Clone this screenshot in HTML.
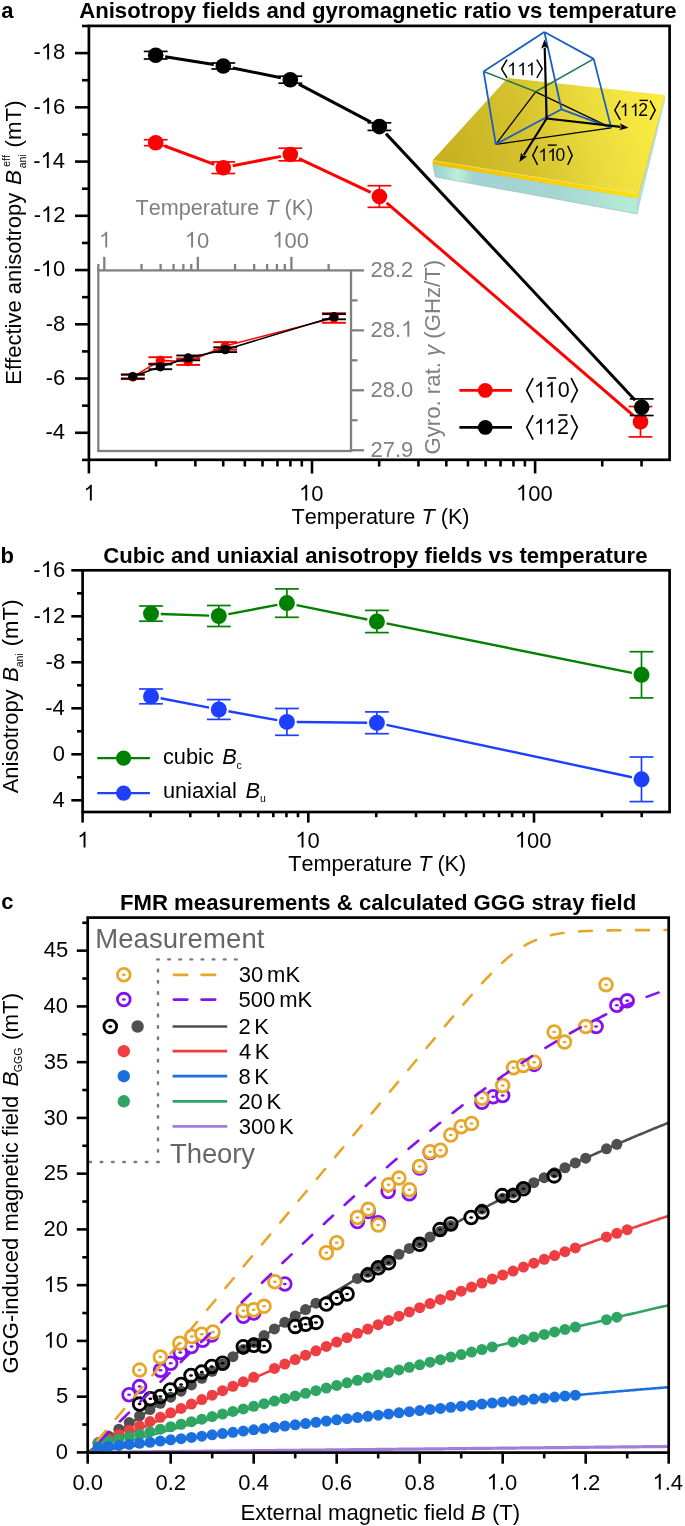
<!DOCTYPE html>
<html><head><meta charset="utf-8"><style>
html,body{margin:0;padding:0;background:#fff;}
svg{display:block;font-family:"Liberation Sans", sans-serif;will-change:transform;}
text{white-space:pre;font-kerning:none;}
</style></head><body>
<svg width="685" height="1526" viewBox="0 0 685 1526">
<defs><path id="one" d="M0.3726,0 L0.3726,-0.719 L0.305,-0.719 Q0.27,-0.64 0.18,-0.585 L0.109,-0.548 L0.109,-0.462 Q0.22,-0.51 0.2847,-0.575 L0.2847,0 Z"/></defs>
<rect width="685" height="1526" fill="#fff"/>
<text x="1.36" y="17.8" font-size="22" font-weight="bold" fill="#000" >a</text>
<text x="79.15" y="18" font-size="22.17" font-weight="bold" fill="#000" textLength="597.51" lengthAdjust="spacing">Anisotropy fields and gyromagnetic ratio vs temperature</text>
<line x1="82" y1="25.98" x2="88.9" y2="25.98" stroke="#000" stroke-width="2.6" />
<line x1="75" y1="53.1" x2="88.9" y2="53.1" stroke="#000" stroke-width="2.6" />
<text x="33.56" y="59.4" font-size="22" fill="#000" >- 8</text>
<use href="#one" transform="translate(40.89,59.4) scale(22)" fill="#000"/>
<line x1="82" y1="80.22" x2="88.9" y2="80.22" stroke="#000" stroke-width="2.6" />
<line x1="75" y1="107.34" x2="88.9" y2="107.34" stroke="#000" stroke-width="2.6" />
<text x="33.57" y="113.64" font-size="22" fill="#000" >- 6</text>
<use href="#one" transform="translate(40.9,113.64) scale(22)" fill="#000"/>
<line x1="82" y1="134.46" x2="88.9" y2="134.46" stroke="#000" stroke-width="2.6" />
<line x1="75" y1="161.58" x2="88.9" y2="161.58" stroke="#000" stroke-width="2.6" />
<text x="33.25" y="167.88" font-size="22" fill="#000" >- 4</text>
<use href="#one" transform="translate(40.57,167.88) scale(22)" fill="#000"/>
<line x1="82" y1="188.7" x2="88.9" y2="188.7" stroke="#000" stroke-width="2.6" />
<line x1="75" y1="215.82" x2="88.9" y2="215.82" stroke="#000" stroke-width="2.6" />
<text x="33.71" y="222.12" font-size="22" fill="#000" >- 2</text>
<use href="#one" transform="translate(41.04,222.12) scale(22)" fill="#000"/>
<line x1="82" y1="242.94" x2="88.9" y2="242.94" stroke="#000" stroke-width="2.6" />
<line x1="75" y1="270.06" x2="88.9" y2="270.06" stroke="#000" stroke-width="2.6" />
<text x="33.46" y="276.36" font-size="22" fill="#000" >- 0</text>
<use href="#one" transform="translate(40.79,276.36) scale(22)" fill="#000"/>
<line x1="82" y1="297.18" x2="88.9" y2="297.18" stroke="#000" stroke-width="2.6" />
<line x1="75" y1="324.3" x2="88.9" y2="324.3" stroke="#000" stroke-width="2.6" />
<text x="45.79" y="330.6" font-size="22" fill="#000" >-8</text>
<line x1="82" y1="351.42" x2="88.9" y2="351.42" stroke="#000" stroke-width="2.6" />
<line x1="75" y1="378.54" x2="88.9" y2="378.54" stroke="#000" stroke-width="2.6" />
<text x="45.81" y="384.84" font-size="22" fill="#000" >-6</text>
<line x1="82" y1="405.66" x2="88.9" y2="405.66" stroke="#000" stroke-width="2.6" />
<line x1="75" y1="432.78" x2="88.9" y2="432.78" stroke="#000" stroke-width="2.6" />
<text x="45.48" y="439.08" font-size="22" fill="#000" >-4</text>
<line x1="82" y1="459.9" x2="88.9" y2="459.9" stroke="#000" stroke-width="2.6" />
<line x1="88.9" y1="459.8" x2="88.9" y2="473.5" stroke="#000" stroke-width="2.6" />
<line x1="156.06" y1="459.8" x2="156.06" y2="466.5" stroke="#000" stroke-width="2.6" />
<line x1="195.35" y1="459.8" x2="195.35" y2="466.5" stroke="#000" stroke-width="2.6" />
<line x1="223.22" y1="459.8" x2="223.22" y2="466.5" stroke="#000" stroke-width="2.6" />
<line x1="244.84" y1="459.8" x2="244.84" y2="466.5" stroke="#000" stroke-width="2.6" />
<line x1="262.51" y1="459.8" x2="262.51" y2="466.5" stroke="#000" stroke-width="2.6" />
<line x1="277.44" y1="459.8" x2="277.44" y2="466.5" stroke="#000" stroke-width="2.6" />
<line x1="290.38" y1="459.8" x2="290.38" y2="466.5" stroke="#000" stroke-width="2.6" />
<line x1="301.79" y1="459.8" x2="301.79" y2="466.5" stroke="#000" stroke-width="2.6" />
<line x1="312" y1="459.8" x2="312" y2="473.5" stroke="#000" stroke-width="2.6" />
<line x1="379.16" y1="459.8" x2="379.16" y2="466.5" stroke="#000" stroke-width="2.6" />
<line x1="418.45" y1="459.8" x2="418.45" y2="466.5" stroke="#000" stroke-width="2.6" />
<line x1="446.32" y1="459.8" x2="446.32" y2="466.5" stroke="#000" stroke-width="2.6" />
<line x1="467.94" y1="459.8" x2="467.94" y2="466.5" stroke="#000" stroke-width="2.6" />
<line x1="485.61" y1="459.8" x2="485.61" y2="466.5" stroke="#000" stroke-width="2.6" />
<line x1="500.54" y1="459.8" x2="500.54" y2="466.5" stroke="#000" stroke-width="2.6" />
<line x1="513.48" y1="459.8" x2="513.48" y2="466.5" stroke="#000" stroke-width="2.6" />
<line x1="524.89" y1="459.8" x2="524.89" y2="466.5" stroke="#000" stroke-width="2.6" />
<line x1="535.1" y1="459.8" x2="535.1" y2="473.5" stroke="#000" stroke-width="2.6" />
<line x1="602.26" y1="459.8" x2="602.26" y2="466.5" stroke="#000" stroke-width="2.6" />
<line x1="641.55" y1="459.8" x2="641.55" y2="466.5" stroke="#000" stroke-width="2.6" />
<text x="83.6" y="500.6" font-size="22" fill="#000" > </text>
<use href="#one" transform="translate(83.6,500.6) scale(22)" fill="#000"/>
<text x="299" y="500.6" font-size="22" fill="#000" > 0</text>
<use href="#one" transform="translate(299,500.6) scale(22)" fill="#000"/>
<text x="515.98" y="500.6" font-size="22" fill="#000" > 00</text>
<use href="#one" transform="translate(515.98,500.6) scale(22)" fill="#000"/>
<text x="291.51" y="524" font-size="21.65" fill="#000" >Temperature </text>
<text x="421.47" y="524" font-size="21.65" font-style="italic" fill="#000" >T</text>
<text x="434.69" y="524" font-size="21.65" fill="#000" > (K)</text>
<g transform="translate(21,0) rotate(-90)" fill="#000">
<text x="-384.7" y="0" font-size="22">Effective anisotropy</text>
<text x="-185.09" y="0" font-size="22.4" font-style="italic">B</text>
<text x="-168.25" y="4.9" font-size="10.5">ani</text>
<text x="-166.85" y="-11" font-size="10.5">eff</text>
<text x="-147.38" y="0" font-size="22.3">(mT)</text>
</g>
<line x1="164.7" y1="146.03" x2="214.3" y2="164.37" stroke="#ff0000" stroke-width="3" />
<line x1="232.72" y1="165.84" x2="280.88" y2="156.36" stroke="#ff0000" stroke-width="3" />
<line x1="298.98" y1="158.59" x2="370.72" y2="192.41" stroke="#ff0000" stroke-width="3" />
<line x1="386.67" y1="202.77" x2="633.23" y2="415.43" stroke="#ff0000" stroke-width="3" />
<line x1="155.7" y1="139.7" x2="155.7" y2="145.7" stroke="#ff0000" stroke-width="1.7" />
<line x1="143.8" y1="139.7" x2="167.6" y2="139.7" stroke="#ff0000" stroke-width="1.7" />
<line x1="143.8" y1="145.7" x2="167.6" y2="145.7" stroke="#ff0000" stroke-width="1.7" />
<circle cx="155.7" cy="142.7" r="7.8" fill="#ff0000" />
<line x1="223.3" y1="161.9" x2="223.3" y2="173.5" stroke="#ff0000" stroke-width="1.7" />
<line x1="211.4" y1="161.9" x2="235.2" y2="161.9" stroke="#ff0000" stroke-width="1.7" />
<line x1="211.4" y1="173.5" x2="235.2" y2="173.5" stroke="#ff0000" stroke-width="1.7" />
<circle cx="223.3" cy="167.7" r="7.8" fill="#ff0000" />
<line x1="290.3" y1="148.2" x2="290.3" y2="160.8" stroke="#ff0000" stroke-width="1.7" />
<line x1="278.4" y1="148.2" x2="302.2" y2="148.2" stroke="#ff0000" stroke-width="1.7" />
<line x1="278.4" y1="160.8" x2="302.2" y2="160.8" stroke="#ff0000" stroke-width="1.7" />
<circle cx="290.3" cy="154.5" r="7.8" fill="#ff0000" />
<line x1="379.4" y1="185.7" x2="379.4" y2="207.3" stroke="#ff0000" stroke-width="1.7" />
<line x1="367.5" y1="185.7" x2="391.3" y2="185.7" stroke="#ff0000" stroke-width="1.7" />
<line x1="367.5" y1="207.3" x2="391.3" y2="207.3" stroke="#ff0000" stroke-width="1.7" />
<circle cx="379.4" cy="196.5" r="7.8" fill="#ff0000" />
<line x1="640.5" y1="406.5" x2="640.5" y2="436.9" stroke="#ff0000" stroke-width="1.7" />
<line x1="628.6" y1="406.5" x2="652.4" y2="406.5" stroke="#ff0000" stroke-width="1.7" />
<line x1="628.6" y1="436.9" x2="652.4" y2="436.9" stroke="#ff0000" stroke-width="1.7" />
<circle cx="640.5" cy="421.7" r="7.8" fill="#ff0000" />
<line x1="165.18" y1="56.71" x2="213.82" y2="64.49" stroke="#000" stroke-width="3" />
<line x1="232.71" y1="67.92" x2="280.89" y2="77.78" stroke="#000" stroke-width="3" />
<line x1="298.8" y1="84.17" x2="370.9" y2="122.13" stroke="#000" stroke-width="3" />
<line x1="385.96" y1="133.61" x2="635.14" y2="400.19" stroke="#000" stroke-width="3" />
<line x1="155.7" y1="51.4" x2="155.7" y2="59" stroke="#000" stroke-width="1.7" />
<line x1="143.8" y1="51.4" x2="167.6" y2="51.4" stroke="#000" stroke-width="1.7" />
<line x1="143.8" y1="59" x2="167.6" y2="59" stroke="#000" stroke-width="1.7" />
<circle cx="155.7" cy="55.2" r="7.8" fill="#000" />
<line x1="223.3" y1="63" x2="223.3" y2="69" stroke="#000" stroke-width="1.7" />
<line x1="211.4" y1="63" x2="235.2" y2="63" stroke="#000" stroke-width="1.7" />
<line x1="211.4" y1="69" x2="235.2" y2="69" stroke="#000" stroke-width="1.7" />
<circle cx="223.3" cy="66" r="7.8" fill="#000" />
<line x1="290.3" y1="76.2" x2="290.3" y2="83.2" stroke="#000" stroke-width="1.7" />
<line x1="278.4" y1="76.2" x2="302.2" y2="76.2" stroke="#000" stroke-width="1.7" />
<line x1="278.4" y1="83.2" x2="302.2" y2="83.2" stroke="#000" stroke-width="1.7" />
<circle cx="290.3" cy="79.7" r="7.8" fill="#000" />
<line x1="379.4" y1="122.8" x2="379.4" y2="130.4" stroke="#000" stroke-width="1.7" />
<line x1="367.5" y1="122.8" x2="391.3" y2="122.8" stroke="#000" stroke-width="1.7" />
<line x1="367.5" y1="130.4" x2="391.3" y2="130.4" stroke="#000" stroke-width="1.7" />
<circle cx="379.4" cy="126.6" r="7.8" fill="#000" />
<line x1="641.7" y1="398.9" x2="641.7" y2="415.5" stroke="#000" stroke-width="1.7" />
<line x1="629.8" y1="398.9" x2="653.6" y2="398.9" stroke="#000" stroke-width="1.7" />
<line x1="629.8" y1="415.5" x2="653.6" y2="415.5" stroke="#000" stroke-width="1.7" />
<circle cx="641.7" cy="407.2" r="7.8" fill="#000" />
<line x1="459.4" y1="390.4" x2="512" y2="390.4" stroke="#ff0000" stroke-width="2.6" />
<circle cx="485.3" cy="390.4" r="7.4" fill="#ff0000" />
<line x1="459.4" y1="427.4" x2="512" y2="427.4" stroke="#000" stroke-width="2.6" />
<circle cx="485.3" cy="427.4" r="7.4" fill="#000" />
<polyline points="533.1,378.1 526.7,390.35 533.1,402.6" fill="none" stroke="#000" stroke-width="1.7" stroke-linejoin="miter"/>
<polyline points="571.2,378.1 577.3,390.35 571.2,402.6" fill="none" stroke="#000" stroke-width="1.7" stroke-linejoin="miter"/>
<text x="533.86" y="397.3" font-size="21.5" fill="#000" > </text>
<use href="#one" transform="translate(533.86,397.3) scale(21.5)" fill="#000"/>
<text x="544.76" y="397.3" font-size="21.5" fill="#000" > </text>
<use href="#one" transform="translate(544.76,397.3) scale(21.5)" fill="#000"/>
<text x="557.66" y="397.3" font-size="21.5" fill="#000" >0</text>
<line x1="547.4" y1="378" x2="556.2" y2="378" stroke="#000" stroke-width="1.6" />
<polyline points="533.1,415.1 526.7,427.35 533.1,439.6" fill="none" stroke="#000" stroke-width="1.7" stroke-linejoin="miter"/>
<polyline points="571.2,415.1 577.3,427.35 571.2,439.6" fill="none" stroke="#000" stroke-width="1.7" stroke-linejoin="miter"/>
<text x="533.86" y="434.3" font-size="21.5" fill="#000" > </text>
<use href="#one" transform="translate(533.86,434.3) scale(21.5)" fill="#000"/>
<text x="544.76" y="434.3" font-size="21.5" fill="#000" > </text>
<use href="#one" transform="translate(544.76,434.3) scale(21.5)" fill="#000"/>
<text x="556.92" y="434.3" font-size="21.5" fill="#000" >2</text>
<line x1="558.4" y1="415" x2="567.4" y2="415" stroke="#000" stroke-width="1.6" />
<rect x="98.3" y="270.4" width="252.7" height="180.6" fill="#fff"/>
<line x1="132.8" y1="376.9" x2="160.3" y2="360.4" stroke="#ff0000" stroke-width="1.6" />
<line x1="160.3" y1="360.4" x2="188.2" y2="361.7" stroke="#ff0000" stroke-width="1.6" />
<line x1="188.2" y1="361.7" x2="225.2" y2="345.9" stroke="#ff0000" stroke-width="1.6" />
<line x1="225.2" y1="345.9" x2="334" y2="318" stroke="#ff0000" stroke-width="1.6" />
<line x1="132.8" y1="374.7" x2="132.8" y2="379.1" stroke="#ff0000" stroke-width="1.6" />
<line x1="120.9" y1="374.7" x2="144.7" y2="374.7" stroke="#ff0000" stroke-width="1.9" />
<line x1="120.9" y1="379.1" x2="144.7" y2="379.1" stroke="#ff0000" stroke-width="1.9" />
<circle cx="132.8" cy="376.9" r="4.6" fill="#ff0000" />
<line x1="160.3" y1="357.2" x2="160.3" y2="363.6" stroke="#ff0000" stroke-width="1.6" />
<line x1="148.4" y1="357.2" x2="172.2" y2="357.2" stroke="#ff0000" stroke-width="1.9" />
<line x1="148.4" y1="363.6" x2="172.2" y2="363.6" stroke="#ff0000" stroke-width="1.9" />
<circle cx="160.3" cy="360.4" r="4.6" fill="#ff0000" />
<line x1="188.2" y1="358.5" x2="188.2" y2="364.9" stroke="#ff0000" stroke-width="1.6" />
<line x1="176.3" y1="358.5" x2="200.1" y2="358.5" stroke="#ff0000" stroke-width="1.9" />
<line x1="176.3" y1="364.9" x2="200.1" y2="364.9" stroke="#ff0000" stroke-width="1.9" />
<circle cx="188.2" cy="361.7" r="4.6" fill="#ff0000" />
<line x1="225.2" y1="342.1" x2="225.2" y2="349.7" stroke="#ff0000" stroke-width="1.6" />
<line x1="213.3" y1="342.1" x2="237.1" y2="342.1" stroke="#ff0000" stroke-width="1.9" />
<line x1="213.3" y1="349.7" x2="237.1" y2="349.7" stroke="#ff0000" stroke-width="1.9" />
<circle cx="225.2" cy="345.9" r="4.6" fill="#ff0000" />
<line x1="334" y1="313.2" x2="334" y2="322.8" stroke="#ff0000" stroke-width="1.6" />
<line x1="322.1" y1="313.2" x2="345.9" y2="313.2" stroke="#ff0000" stroke-width="1.9" />
<line x1="322.1" y1="322.8" x2="345.9" y2="322.8" stroke="#ff0000" stroke-width="1.9" />
<circle cx="334" cy="318" r="4.6" fill="#ff0000" />
<line x1="132.8" y1="376.5" x2="160.3" y2="366.8" stroke="#000" stroke-width="1.6" />
<line x1="160.3" y1="366.8" x2="188.2" y2="357.9" stroke="#000" stroke-width="1.6" />
<line x1="188.2" y1="357.9" x2="225.2" y2="349.7" stroke="#000" stroke-width="1.6" />
<line x1="225.2" y1="349.7" x2="334" y2="316.7" stroke="#000" stroke-width="1.6" />
<line x1="132.8" y1="374.5" x2="132.8" y2="378.5" stroke="#000" stroke-width="1.6" />
<line x1="120.9" y1="374.5" x2="144.7" y2="374.5" stroke="#000" stroke-width="1.9" />
<line x1="120.9" y1="378.5" x2="144.7" y2="378.5" stroke="#000" stroke-width="1.9" />
<circle cx="132.8" cy="376.5" r="4.6" fill="#000" />
<line x1="160.3" y1="364.4" x2="160.3" y2="369.2" stroke="#000" stroke-width="1.6" />
<line x1="148.4" y1="364.4" x2="172.2" y2="364.4" stroke="#000" stroke-width="1.9" />
<line x1="148.4" y1="369.2" x2="172.2" y2="369.2" stroke="#000" stroke-width="1.9" />
<circle cx="160.3" cy="366.8" r="4.6" fill="#000" />
<line x1="188.2" y1="355.5" x2="188.2" y2="360.3" stroke="#000" stroke-width="1.6" />
<line x1="176.3" y1="355.5" x2="200.1" y2="355.5" stroke="#000" stroke-width="1.9" />
<line x1="176.3" y1="360.3" x2="200.1" y2="360.3" stroke="#000" stroke-width="1.9" />
<circle cx="188.2" cy="357.9" r="4.6" fill="#000" />
<line x1="225.2" y1="347.3" x2="225.2" y2="352.1" stroke="#000" stroke-width="1.6" />
<line x1="213.3" y1="347.3" x2="237.1" y2="347.3" stroke="#000" stroke-width="1.9" />
<line x1="213.3" y1="352.1" x2="237.1" y2="352.1" stroke="#000" stroke-width="1.9" />
<circle cx="225.2" cy="349.7" r="4.6" fill="#000" />
<line x1="334" y1="314.1" x2="334" y2="319.3" stroke="#000" stroke-width="1.6" />
<line x1="322.1" y1="314.1" x2="345.9" y2="314.1" stroke="#000" stroke-width="1.9" />
<line x1="322.1" y1="319.3" x2="345.9" y2="319.3" stroke="#000" stroke-width="1.9" />
<circle cx="334" cy="316.7" r="4.6" fill="#000" />
<rect x="98.3" y="270.4" width="252.7" height="180.6" fill="none" stroke="#808080" stroke-width="2.3"/>
<line x1="104.3" y1="270.4" x2="104.3" y2="256.8" stroke="#808080" stroke-width="2.3" />
<line x1="141.53" y1="270.4" x2="141.53" y2="264" stroke="#808080" stroke-width="2.3" />
<line x1="160.62" y1="270.4" x2="160.62" y2="264" stroke="#808080" stroke-width="2.3" />
<line x1="173.56" y1="270.4" x2="173.56" y2="264" stroke="#808080" stroke-width="2.3" />
<line x1="183.36" y1="270.4" x2="183.36" y2="264" stroke="#808080" stroke-width="2.3" />
<line x1="191.25" y1="270.4" x2="191.25" y2="264" stroke="#808080" stroke-width="2.3" />
<line x1="197.85" y1="270.4" x2="197.85" y2="256.8" stroke="#808080" stroke-width="2.3" />
<line x1="235.08" y1="270.4" x2="235.08" y2="264" stroke="#808080" stroke-width="2.3" />
<line x1="254.17" y1="270.4" x2="254.17" y2="264" stroke="#808080" stroke-width="2.3" />
<line x1="267.11" y1="270.4" x2="267.11" y2="264" stroke="#808080" stroke-width="2.3" />
<line x1="276.91" y1="270.4" x2="276.91" y2="264" stroke="#808080" stroke-width="2.3" />
<line x1="284.8" y1="270.4" x2="284.8" y2="264" stroke="#808080" stroke-width="2.3" />
<line x1="291.4" y1="270.4" x2="291.4" y2="256.8" stroke="#808080" stroke-width="2.3" />
<line x1="328.63" y1="270.4" x2="328.63" y2="264" stroke="#808080" stroke-width="2.3" />
<line x1="98.3" y1="270.4" x2="98.3" y2="264" stroke="#808080" stroke-width="2.3" />
<text x="99" y="247.6" font-size="22" fill="#808080" > </text>
<use href="#one" transform="translate(99,247.6) scale(22)" fill="#808080"/>
<text x="184.85" y="247.6" font-size="22" fill="#808080" > 0</text>
<use href="#one" transform="translate(184.85,247.6) scale(22)" fill="#808080"/>
<text x="272.28" y="247.6" font-size="22" fill="#808080" > 00</text>
<use href="#one" transform="translate(272.28,247.6) scale(22)" fill="#808080"/>
<text x="135.41" y="214.6" font-size="21.65" fill="#808080" >Temperature </text>
<text x="265.37" y="214.6" font-size="21.65" font-style="italic" fill="#808080" >T</text>
<text x="278.59" y="214.6" font-size="21.65" fill="#808080" > (K)</text>
<line x1="351" y1="270.4" x2="364" y2="270.4" stroke="#808080" stroke-width="2.3" />
<text x="370.49" y="276.7" font-size="22" fill="#808080" >28.2</text>
<line x1="351" y1="300.38" x2="357.5" y2="300.38" stroke="#808080" stroke-width="2.3" />
<line x1="351" y1="330.35" x2="364" y2="330.35" stroke="#808080" stroke-width="2.3" />
<text x="370.49" y="336.65" font-size="22" fill="#808080" >28. </text>
<use href="#one" transform="translate(401.08,336.65) scale(22)" fill="#808080"/>
<line x1="351" y1="360.32" x2="357.5" y2="360.32" stroke="#808080" stroke-width="2.3" />
<line x1="351" y1="390.3" x2="364" y2="390.3" stroke="#808080" stroke-width="2.3" />
<text x="370.49" y="396.6" font-size="22" fill="#808080" >28.0</text>
<line x1="351" y1="420.27" x2="357.5" y2="420.27" stroke="#808080" stroke-width="2.3" />
<line x1="351" y1="450.25" x2="364" y2="450.25" stroke="#808080" stroke-width="2.3" />
<text x="370.49" y="456.55" font-size="22" fill="#808080" >27.9</text>
<text transform="translate(440.2,357.2) rotate(-90)" font-size="22.2" text-anchor="middle" fill="#808080">Gyro. rat. <tspan font-style="italic">&#x3B3;</tspan> (GHz/T)</text>
<defs>
<linearGradient id="slabtop" gradientUnits="userSpaceOnUse" x1="450" y1="160" x2="660" y2="110">
<stop offset="0" stop-color="#c8b222"/><stop offset="0.35" stop-color="#d5c12d"/><stop offset="0.7" stop-color="#ecdd3e"/><stop offset="1" stop-color="#fbec42"/></linearGradient>
<linearGradient id="slabfront" gradientUnits="userSpaceOnUse" x1="433" y1="0" x2="638" y2="0">
<stop offset="0" stop-color="#9fd0cf"/><stop offset="0.06" stop-color="#a8dcd4"/><stop offset="0.12" stop-color="#bdf0d8"/><stop offset="0.2" stop-color="#a2d2d2"/><stop offset="0.6" stop-color="#a6d6d2"/><stop offset="1" stop-color="#b6ecd6"/></linearGradient>
<linearGradient id="slabband" gradientUnits="userSpaceOnUse" x1="433" y1="0" x2="638" y2="0">
<stop offset="0" stop-color="#eec000"/><stop offset="0.5" stop-color="#f8cc00"/><stop offset="1" stop-color="#ffe010"/></linearGradient>
</defs>
<polygon points="432.8,164.2 638,198.4 637.4,214 435.4,177" fill="url(#slabfront)" stroke="#8fb8b8" stroke-width="0.6"/>
<polygon points="638,193.6 664.8,94.9 664.8,101 637.4,214" fill="#b2ddd8"/>
<polygon points="638,193.6 664.8,94.9 664.8,96.5 638,198.4" fill="#f2d21a"/>
<polygon points="432.6,160.2 638,193.6 638,198.4 432.8,164.4" fill="url(#slabband)"/>
<polygon points="432.6,160.2 507.6,78 664.8,94.9 638,193.6" fill="url(#slabtop)" />
<line x1="433.5" y1="160.6" x2="637.5" y2="194" stroke="#f4e060" stroke-width="0.9" opacity="0.8"/>
<line x1="495.8" y1="144.3" x2="535.7" y2="91.8" stroke="#000" stroke-width="1.3" />
<line x1="535.7" y1="91.8" x2="611.2" y2="127.9" stroke="#000" stroke-width="1.3" />
<line x1="495.8" y1="144.3" x2="611.2" y2="127.9" stroke="#000" stroke-width="1.3" />
<line x1="483.6" y1="71.4" x2="535.7" y2="91.8" stroke="#1f7a4e" stroke-width="1.6" />
<line x1="593.7" y1="58.9" x2="535.7" y2="91.8" stroke="#1f7a4e" stroke-width="1.6" />
<line x1="544.4" y1="32" x2="483.6" y2="71.4" stroke="#1a5ec4" stroke-width="1.8" />
<line x1="544.4" y1="32" x2="593.7" y2="58.9" stroke="#1a5ec4" stroke-width="1.8" />
<line x1="544.4" y1="32" x2="561.5" y2="109.3" stroke="#1a5ec4" stroke-width="1.8" />
<line x1="483.6" y1="71.4" x2="495.8" y2="144.3" stroke="#1a5ec4" stroke-width="1.8" />
<line x1="593.7" y1="58.9" x2="611.2" y2="127.9" stroke="#1a5ec4" stroke-width="1.8" />
<line x1="561.5" y1="109.3" x2="495.8" y2="144.3" stroke="#1a5ec4" stroke-width="1.8" />
<line x1="561.5" y1="109.3" x2="611.2" y2="127.9" stroke="#1a5ec4" stroke-width="1.8" />
<line x1="546.6" y1="118.5" x2="544.71" y2="47.6" stroke="#000" stroke-width="2.2" />
<polygon points="544.5,39.6 548.34,48.5 544.69,46.6 541.14,48.69" fill="#000"/>
<line x1="546.6" y1="118.5" x2="620.55" y2="126.9" stroke="#000" stroke-width="2.2" />
<polygon points="628.5,127.8 619.15,130.36 621.54,127.01 619.96,123.21" fill="#000"/>
<line x1="546.6" y1="118.5" x2="523.64" y2="155.22" stroke="#000" stroke-width="2.2" />
<polygon points="519.4,162 521.12,152.46 523.11,156.06 527.22,156.28" fill="#000"/>
<polyline points="507,59.7 501.6,68.8 507,77.9" fill="none" stroke="#000" stroke-width="1.5" stroke-linejoin="miter"/>
<polyline points="536.8,59.7 542.2,68.8 536.8,77.9" fill="none" stroke="#000" stroke-width="1.5" stroke-linejoin="miter"/>
<text x="507.27" y="75.2" font-size="17.7" fill="#000" > </text>
<use href="#one" transform="translate(507.27,75.2) scale(17.7)" fill="#000"/>
<text x="517.27" y="75.2" font-size="17.7" fill="#000" > </text>
<use href="#one" transform="translate(517.27,75.2) scale(17.7)" fill="#000"/>
<text x="526.07" y="75.2" font-size="17.7" fill="#000" > </text>
<use href="#one" transform="translate(526.07,75.2) scale(17.7)" fill="#000"/>
<polyline points="620.3,100.6 614.8,110.2 620.3,119.8" fill="none" stroke="#000" stroke-width="1.5" stroke-linejoin="miter"/>
<polyline points="650.1,100.6 655.2,110.2 650.1,119.8" fill="none" stroke="#000" stroke-width="1.5" stroke-linejoin="miter"/>
<text x="619.79" y="116" font-size="17.5" fill="#000" > </text>
<use href="#one" transform="translate(619.79,116) scale(17.5)" fill="#000"/>
<text x="629.89" y="116" font-size="17.5" fill="#000" > </text>
<use href="#one" transform="translate(629.89,116) scale(17.5)" fill="#000"/>
<text x="638.32" y="116" font-size="17.5" fill="#000" >2</text>
<line x1="639.6" y1="100.4" x2="647.9" y2="100.4" stroke="#000" stroke-width="1.4" />
<polyline points="537.6,145.8 532.8,155.4 537.6,165" fill="none" stroke="#000" stroke-width="1.5" stroke-linejoin="miter"/>
<polyline points="567.7,145.8 572.2,155.4 567.7,165" fill="none" stroke="#000" stroke-width="1.5" stroke-linejoin="miter"/>
<text x="538.29" y="161.1" font-size="17.5" fill="#000" > </text>
<use href="#one" transform="translate(538.29,161.1) scale(17.5)" fill="#000"/>
<text x="547.29" y="161.1" font-size="17.5" fill="#000" > </text>
<use href="#one" transform="translate(547.29,161.1) scale(17.5)" fill="#000"/>
<text x="555.62" y="161.1" font-size="17.5" fill="#000" >0</text>
<line x1="547.7" y1="145.1" x2="556.7" y2="145.1" stroke="#000" stroke-width="1.4" />
<rect x="88.9" y="25.9" width="580.7" height="433.9" fill="none" stroke="#000" stroke-width="2.7"/>
<text x="0.55" y="562.8" font-size="22" font-weight="bold" fill="#000" >b</text>
<text x="103.29" y="562.9" font-size="22.15" font-weight="bold" fill="#000" textLength="544.17" lengthAdjust="spacing">Cubic and uniaxial anisotropy fields vs temperature</text>
<line x1="71.3" y1="570.3" x2="82.6" y2="570.3" stroke="#000" stroke-width="2.6" />
<text x="33.37" y="577.1" font-size="22" fill="#000" >- 6</text>
<use href="#one" transform="translate(40.7,577.1) scale(22)" fill="#000"/>
<line x1="77" y1="593.3" x2="82.6" y2="593.3" stroke="#000" stroke-width="2.6" />
<line x1="71.3" y1="616.3" x2="82.6" y2="616.3" stroke="#000" stroke-width="2.6" />
<text x="33.51" y="623.1" font-size="22" fill="#000" >- 2</text>
<use href="#one" transform="translate(40.84,623.1) scale(22)" fill="#000"/>
<line x1="77" y1="639.3" x2="82.6" y2="639.3" stroke="#000" stroke-width="2.6" />
<line x1="71.3" y1="662.3" x2="82.6" y2="662.3" stroke="#000" stroke-width="2.6" />
<text x="45.59" y="669.1" font-size="22" fill="#000" >-8</text>
<line x1="77" y1="685.3" x2="82.6" y2="685.3" stroke="#000" stroke-width="2.6" />
<line x1="71.3" y1="708.3" x2="82.6" y2="708.3" stroke="#000" stroke-width="2.6" />
<text x="45.28" y="715.1" font-size="22" fill="#000" >-4</text>
<line x1="77" y1="731.3" x2="82.6" y2="731.3" stroke="#000" stroke-width="2.6" />
<line x1="71.3" y1="754.3" x2="82.6" y2="754.3" stroke="#000" stroke-width="2.6" />
<text x="52.82" y="761.1" font-size="22" fill="#000" >0</text>
<line x1="77" y1="777.3" x2="82.6" y2="777.3" stroke="#000" stroke-width="2.6" />
<line x1="71.3" y1="800.3" x2="82.6" y2="800.3" stroke="#000" stroke-width="2.6" />
<text x="52.61" y="807.1" font-size="22" fill="#000" >4</text>
<line x1="82.6" y1="812" x2="82.6" y2="822.6" stroke="#000" stroke-width="2.6" />
<line x1="150.54" y1="812" x2="150.54" y2="817.2" stroke="#000" stroke-width="2.6" />
<line x1="190.29" y1="812" x2="190.29" y2="817.2" stroke="#000" stroke-width="2.6" />
<line x1="218.48" y1="812" x2="218.48" y2="817.2" stroke="#000" stroke-width="2.6" />
<line x1="240.36" y1="812" x2="240.36" y2="817.2" stroke="#000" stroke-width="2.6" />
<line x1="258.23" y1="812" x2="258.23" y2="817.2" stroke="#000" stroke-width="2.6" />
<line x1="273.34" y1="812" x2="273.34" y2="817.2" stroke="#000" stroke-width="2.6" />
<line x1="286.43" y1="812" x2="286.43" y2="817.2" stroke="#000" stroke-width="2.6" />
<line x1="297.97" y1="812" x2="297.97" y2="817.2" stroke="#000" stroke-width="2.6" />
<line x1="308.3" y1="812" x2="308.3" y2="822.6" stroke="#000" stroke-width="2.6" />
<line x1="376.24" y1="812" x2="376.24" y2="817.2" stroke="#000" stroke-width="2.6" />
<line x1="415.99" y1="812" x2="415.99" y2="817.2" stroke="#000" stroke-width="2.6" />
<line x1="444.18" y1="812" x2="444.18" y2="817.2" stroke="#000" stroke-width="2.6" />
<line x1="466.06" y1="812" x2="466.06" y2="817.2" stroke="#000" stroke-width="2.6" />
<line x1="483.93" y1="812" x2="483.93" y2="817.2" stroke="#000" stroke-width="2.6" />
<line x1="499.04" y1="812" x2="499.04" y2="817.2" stroke="#000" stroke-width="2.6" />
<line x1="512.13" y1="812" x2="512.13" y2="817.2" stroke="#000" stroke-width="2.6" />
<line x1="523.67" y1="812" x2="523.67" y2="817.2" stroke="#000" stroke-width="2.6" />
<line x1="534" y1="812" x2="534" y2="822.6" stroke="#000" stroke-width="2.6" />
<line x1="601.94" y1="812" x2="601.94" y2="817.2" stroke="#000" stroke-width="2.6" />
<line x1="641.69" y1="812" x2="641.69" y2="817.2" stroke="#000" stroke-width="2.6" />
<text x="77.3" y="847.6" font-size="22" fill="#000" > </text>
<use href="#one" transform="translate(77.3,847.6) scale(22)" fill="#000"/>
<text x="295.3" y="847.6" font-size="22" fill="#000" > 0</text>
<use href="#one" transform="translate(295.3,847.6) scale(22)" fill="#000"/>
<text x="514.88" y="847.6" font-size="22" fill="#000" > 00</text>
<use href="#one" transform="translate(514.88,847.6) scale(22)" fill="#000"/>
<text x="288.21" y="871.4" font-size="21.65" fill="#000" >Temperature </text>
<text x="418.17" y="871.4" font-size="21.65" font-style="italic" fill="#000" >T</text>
<text x="431.39" y="871.4" font-size="21.65" fill="#000" > (K)</text>
<g transform="translate(18,0) rotate(-90)" fill="#000">
<text x="-793.34" y="0" font-size="22">Anisotropy</text>
<text x="-681.89" y="0" font-size="22.4" font-style="italic">B</text>
<text x="-667.25" y="4.6" font-size="10.5">ani</text>
<text x="-646.28" y="0" font-size="22.2">(mT)</text>
</g>
<line x1="160.79" y1="613.95" x2="209.01" y2="615.65" stroke="#008000" stroke-width="2.4" />
<line x1="228.43" y1="614.18" x2="277.27" y2="604.92" stroke="#008000" stroke-width="2.4" />
<line x1="296.5" y1="605.06" x2="367.3" y2="619.54" stroke="#008000" stroke-width="2.4" />
<line x1="386.51" y1="623.44" x2="631.89" y2="672.86" stroke="#008000" stroke-width="2.4" />
<line x1="151" y1="606" x2="151" y2="621.2" stroke="#008000" stroke-width="1.7" />
<line x1="139.1" y1="606" x2="162.9" y2="606" stroke="#008000" stroke-width="1.7" />
<line x1="139.1" y1="621.2" x2="162.9" y2="621.2" stroke="#008000" stroke-width="1.7" />
<circle cx="151" cy="613.6" r="8" fill="#008000" />
<line x1="218.8" y1="605.5" x2="218.8" y2="626.5" stroke="#008000" stroke-width="1.7" />
<line x1="206.9" y1="605.5" x2="230.7" y2="605.5" stroke="#008000" stroke-width="1.7" />
<line x1="206.9" y1="626.5" x2="230.7" y2="626.5" stroke="#008000" stroke-width="1.7" />
<circle cx="218.8" cy="616" r="8" fill="#008000" />
<line x1="286.9" y1="588.9" x2="286.9" y2="617.3" stroke="#008000" stroke-width="1.7" />
<line x1="275" y1="588.9" x2="298.8" y2="588.9" stroke="#008000" stroke-width="1.7" />
<line x1="275" y1="617.3" x2="298.8" y2="617.3" stroke="#008000" stroke-width="1.7" />
<circle cx="286.9" cy="603.1" r="8" fill="#008000" />
<line x1="376.9" y1="610.4" x2="376.9" y2="632.6" stroke="#008000" stroke-width="1.7" />
<line x1="365" y1="610.4" x2="388.8" y2="610.4" stroke="#008000" stroke-width="1.7" />
<line x1="365" y1="632.6" x2="388.8" y2="632.6" stroke="#008000" stroke-width="1.7" />
<circle cx="376.9" cy="621.5" r="8" fill="#008000" />
<line x1="641.5" y1="651.7" x2="641.5" y2="697.9" stroke="#008000" stroke-width="1.7" />
<line x1="629.6" y1="651.7" x2="653.4" y2="651.7" stroke="#008000" stroke-width="1.7" />
<line x1="629.6" y1="697.9" x2="653.4" y2="697.9" stroke="#008000" stroke-width="1.7" />
<circle cx="641.5" cy="674.8" r="8" fill="#008000" />
<line x1="160.62" y1="698.26" x2="209.18" y2="707.64" stroke="#1f3fff" stroke-width="2.4" />
<line x1="228.44" y1="711.26" x2="277.26" y2="720.14" stroke="#1f3fff" stroke-width="2.4" />
<line x1="296.7" y1="722" x2="367.1" y2="722.7" stroke="#1f3fff" stroke-width="2.4" />
<line x1="386.48" y1="724.85" x2="631.92" y2="777.25" stroke="#1f3fff" stroke-width="2.4" />
<line x1="151" y1="689" x2="151" y2="703.8" stroke="#1f3fff" stroke-width="1.7" />
<line x1="139.1" y1="689" x2="162.9" y2="689" stroke="#1f3fff" stroke-width="1.7" />
<line x1="139.1" y1="703.8" x2="162.9" y2="703.8" stroke="#1f3fff" stroke-width="1.7" />
<circle cx="151" cy="696.4" r="8" fill="#1f3fff" />
<line x1="218.8" y1="699.6" x2="218.8" y2="719.4" stroke="#1f3fff" stroke-width="1.7" />
<line x1="206.9" y1="699.6" x2="230.7" y2="699.6" stroke="#1f3fff" stroke-width="1.7" />
<line x1="206.9" y1="719.4" x2="230.7" y2="719.4" stroke="#1f3fff" stroke-width="1.7" />
<circle cx="218.8" cy="709.5" r="8" fill="#1f3fff" />
<line x1="286.9" y1="708.5" x2="286.9" y2="735.3" stroke="#1f3fff" stroke-width="1.7" />
<line x1="275" y1="708.5" x2="298.8" y2="708.5" stroke="#1f3fff" stroke-width="1.7" />
<line x1="275" y1="735.3" x2="298.8" y2="735.3" stroke="#1f3fff" stroke-width="1.7" />
<circle cx="286.9" cy="721.9" r="8" fill="#1f3fff" />
<line x1="376.9" y1="711.9" x2="376.9" y2="733.7" stroke="#1f3fff" stroke-width="1.7" />
<line x1="365" y1="711.9" x2="388.8" y2="711.9" stroke="#1f3fff" stroke-width="1.7" />
<line x1="365" y1="733.7" x2="388.8" y2="733.7" stroke="#1f3fff" stroke-width="1.7" />
<circle cx="376.9" cy="722.8" r="8" fill="#1f3fff" />
<line x1="641.5" y1="757" x2="641.5" y2="801.6" stroke="#1f3fff" stroke-width="1.7" />
<line x1="629.6" y1="757" x2="653.4" y2="757" stroke="#1f3fff" stroke-width="1.7" />
<line x1="629.6" y1="801.6" x2="653.4" y2="801.6" stroke="#1f3fff" stroke-width="1.7" />
<circle cx="641.5" cy="779.3" r="8" fill="#1f3fff" />
<line x1="97.3" y1="758.1" x2="149.9" y2="758.1" stroke="#008000" stroke-width="2.4" />
<circle cx="123.6" cy="758.1" r="7.6" fill="#008000" />
<line x1="97.3" y1="793.1" x2="149.9" y2="793.1" stroke="#1f3fff" stroke-width="2.4" />
<circle cx="123.6" cy="793.1" r="7.6" fill="#1f3fff" />
<text x="162.97" y="764.2" font-size="21.8" fill="#000" >cubic </text>
<text x="222.23" y="764.2" font-size="21.8" font-style="italic" fill="#000" >B</text>
<text x="236.55" y="768.6" font-size="10.5" fill="#000" >c</text>
<text x="162.88" y="797.6" font-size="21.8" fill="#000" >uniaxial </text>
<text x="245.53" y="797.6" font-size="21.8" font-style="italic" fill="#000" >B</text>
<text x="259.92" y="802.4" font-size="10.5" fill="#000" >u</text>
<rect x="82.6" y="570.3" width="587" height="241.7" fill="none" stroke="#000" stroke-width="2.7"/>
<text x="1.34" y="909" font-size="22" font-weight="bold" fill="#000" >c</text>
<text x="119.92" y="909.9" font-size="22.17" font-weight="bold" fill="#000" textLength="516.34" lengthAdjust="spacing">FMR measurements &amp; calculated GGG stray field</text>
<line x1="76.8" y1="1452.4" x2="87.7" y2="1452.4" stroke="#000" stroke-width="2.6" />
<text x="55.82" y="1459.2" font-size="22" fill="#000" >0</text>
<line x1="82.3" y1="1424.53" x2="87.7" y2="1424.53" stroke="#000" stroke-width="2.6" />
<line x1="76.8" y1="1396.65" x2="87.7" y2="1396.65" stroke="#000" stroke-width="2.6" />
<text x="55.89" y="1403.45" font-size="22" fill="#000" >5</text>
<line x1="82.3" y1="1368.78" x2="87.7" y2="1368.78" stroke="#000" stroke-width="2.6" />
<line x1="76.8" y1="1340.9" x2="87.7" y2="1340.9" stroke="#000" stroke-width="2.6" />
<text x="43.59" y="1347.7" font-size="22" fill="#000" > 0</text>
<use href="#one" transform="translate(43.59,1347.7) scale(22)" fill="#000"/>
<line x1="82.3" y1="1313.03" x2="87.7" y2="1313.03" stroke="#000" stroke-width="2.6" />
<line x1="76.8" y1="1285.15" x2="87.7" y2="1285.15" stroke="#000" stroke-width="2.6" />
<text x="43.65" y="1291.95" font-size="22" fill="#000" > 5</text>
<use href="#one" transform="translate(43.65,1291.95) scale(22)" fill="#000"/>
<line x1="82.3" y1="1257.28" x2="87.7" y2="1257.28" stroke="#000" stroke-width="2.6" />
<line x1="76.8" y1="1229.4" x2="87.7" y2="1229.4" stroke="#000" stroke-width="2.6" />
<text x="43.59" y="1236.2" font-size="22" fill="#000" >20</text>
<line x1="82.3" y1="1201.53" x2="87.7" y2="1201.53" stroke="#000" stroke-width="2.6" />
<line x1="76.8" y1="1173.65" x2="87.7" y2="1173.65" stroke="#000" stroke-width="2.6" />
<text x="43.65" y="1180.45" font-size="22" fill="#000" >25</text>
<line x1="82.3" y1="1145.78" x2="87.7" y2="1145.78" stroke="#000" stroke-width="2.6" />
<line x1="76.8" y1="1117.9" x2="87.7" y2="1117.9" stroke="#000" stroke-width="2.6" />
<text x="43.59" y="1124.7" font-size="22" fill="#000" >30</text>
<line x1="82.3" y1="1090.03" x2="87.7" y2="1090.03" stroke="#000" stroke-width="2.6" />
<line x1="76.8" y1="1062.15" x2="87.7" y2="1062.15" stroke="#000" stroke-width="2.6" />
<text x="43.65" y="1068.95" font-size="22" fill="#000" >35</text>
<line x1="82.3" y1="1034.28" x2="87.7" y2="1034.28" stroke="#000" stroke-width="2.6" />
<line x1="76.8" y1="1006.4" x2="87.7" y2="1006.4" stroke="#000" stroke-width="2.6" />
<text x="43.59" y="1013.2" font-size="22" fill="#000" >40</text>
<line x1="82.3" y1="978.53" x2="87.7" y2="978.53" stroke="#000" stroke-width="2.6" />
<line x1="76.8" y1="950.65" x2="87.7" y2="950.65" stroke="#000" stroke-width="2.6" />
<text x="43.65" y="957.45" font-size="22" fill="#000" >45</text>
<line x1="82.3" y1="922.78" x2="87.7" y2="922.78" stroke="#000" stroke-width="2.6" />
<line x1="87.7" y1="1452.6" x2="87.7" y2="1463.7" stroke="#000" stroke-width="2.6" />
<text x="72.41" y="1489.6" font-size="22" fill="#000" >0.0</text>
<line x1="129.2" y1="1452.6" x2="129.2" y2="1458.4" stroke="#000" stroke-width="2.6" />
<line x1="170.7" y1="1452.6" x2="170.7" y2="1463.7" stroke="#000" stroke-width="2.6" />
<text x="155.53" y="1489.6" font-size="22" fill="#000" >0.2</text>
<line x1="212.2" y1="1452.6" x2="212.2" y2="1458.4" stroke="#000" stroke-width="2.6" />
<line x1="253.7" y1="1452.6" x2="253.7" y2="1463.7" stroke="#000" stroke-width="2.6" />
<text x="238.3" y="1489.6" font-size="22" fill="#000" >0.4</text>
<line x1="295.2" y1="1452.6" x2="295.2" y2="1458.4" stroke="#000" stroke-width="2.6" />
<line x1="336.7" y1="1452.6" x2="336.7" y2="1463.7" stroke="#000" stroke-width="2.6" />
<text x="321.46" y="1489.6" font-size="22" fill="#000" >0.6</text>
<line x1="378.2" y1="1452.6" x2="378.2" y2="1458.4" stroke="#000" stroke-width="2.6" />
<line x1="419.7" y1="1452.6" x2="419.7" y2="1463.7" stroke="#000" stroke-width="2.6" />
<text x="404.46" y="1489.6" font-size="22" fill="#000" >0.8</text>
<line x1="461.2" y1="1452.6" x2="461.2" y2="1458.4" stroke="#000" stroke-width="2.6" />
<line x1="502.7" y1="1452.6" x2="502.7" y2="1463.7" stroke="#000" stroke-width="2.6" />
<text x="486.64" y="1489.6" font-size="22" fill="#000" > .0</text>
<use href="#one" transform="translate(486.64,1489.6) scale(22)" fill="#000"/>
<line x1="544.2" y1="1452.6" x2="544.2" y2="1458.4" stroke="#000" stroke-width="2.6" />
<line x1="585.7" y1="1452.6" x2="585.7" y2="1463.7" stroke="#000" stroke-width="2.6" />
<text x="569.76" y="1489.6" font-size="22" fill="#000" > .2</text>
<use href="#one" transform="translate(569.76,1489.6) scale(22)" fill="#000"/>
<line x1="627.2" y1="1452.6" x2="627.2" y2="1458.4" stroke="#000" stroke-width="2.6" />
<line x1="668.7" y1="1452.6" x2="668.7" y2="1463.7" stroke="#000" stroke-width="2.6" />
<text x="652.53" y="1489.6" font-size="22" fill="#000" > .4</text>
<use href="#one" transform="translate(652.53,1489.6) scale(22)" fill="#000"/>
<text x="240.58" y="1519.8" font-size="22.17" fill="#000" >External magnetic field </text>
<text x="471.02" y="1519.8" font-size="22.17" font-style="italic" fill="#000" >B</text>
<text x="485.8" y="1519.8" font-size="22.17" fill="#000" > (T)</text>
<g transform="translate(17.8,0) rotate(-90)" fill="#000">
<text x="-1373.41" y="0" font-size="22">GGG-induced magnetic field</text>
<text x="-1086.5" y="0" font-size="22.6" font-style="italic">B</text>
<text x="-1072.13" y="4.4" font-size="10.5">GGG</text>
<text x="-1039.98" y="0" font-size="22.3">(mT)</text>
</g>
<clipPath id="cclip"><rect x="87.7" y="917.6" width="581" height="533.8"/></clipPath><g clip-path="url(#cclip)">
<path d="M87.7,1452.4 L89.78,1452.38 L91.85,1452.36 L93.92,1452.34 L96,1452.32 L98.08,1452.29 L100.15,1452.27 L102.22,1452.25 L104.3,1452.23 L106.38,1452.21 L108.45,1452.19 L110.53,1452.17 L112.6,1452.15 L114.68,1452.12 L116.75,1452.1 L118.83,1452.08 L120.9,1452.06 L122.97,1452.04 L125.05,1452.02 L127.12,1452 L129.2,1451.98 L131.28,1451.96 L133.35,1451.93 L135.43,1451.91 L137.5,1451.89 L139.57,1451.87 L141.65,1451.85 L143.72,1451.83 L145.8,1451.81 L147.88,1451.79 L149.95,1451.76 L152.03,1451.74 L154.1,1451.72 L156.18,1451.7 L158.25,1451.68 L160.32,1451.66 L162.4,1451.64 L164.48,1451.62 L166.55,1451.59 L168.62,1451.57 L170.7,1451.55 L172.77,1451.53 L174.85,1451.51 L176.93,1451.49 L179,1451.47 L181.07,1451.45 L183.15,1451.43 L185.22,1451.4 L187.3,1451.38 L189.38,1451.36 L191.45,1451.34 L193.52,1451.32 L195.6,1451.3 L197.67,1451.28 L199.75,1451.26 L201.83,1451.23 L203.9,1451.21 L205.97,1451.19 L208.05,1451.17 L210.12,1451.15 L212.2,1451.13 L214.28,1451.11 L216.35,1451.09 L218.42,1451.07 L220.5,1451.04 L222.57,1451.02 L224.65,1451 L226.72,1450.98 L228.8,1450.96 L230.88,1450.94 L232.95,1450.92 L235.02,1450.9 L237.1,1450.87 L239.17,1450.85 L241.25,1450.83 L243.32,1450.81 L245.4,1450.79 L247.48,1450.77 L249.55,1450.75 L251.62,1450.73 L253.7,1450.71 L255.77,1450.68 L257.85,1450.66 L259.93,1450.64 L262,1450.62 L264.07,1450.6 L266.15,1450.58 L268.23,1450.56 L270.3,1450.54 L272.38,1450.51 L274.45,1450.49 L276.52,1450.47 L278.6,1450.45 L280.68,1450.43 L282.75,1450.41 L284.82,1450.39 L286.9,1450.37 L288.97,1450.35 L291.05,1450.32 L293.12,1450.3 L295.2,1450.28 L297.27,1450.26 L299.35,1450.24 L301.43,1450.22 L303.5,1450.2 L305.57,1450.18 L307.65,1450.15 L309.72,1450.13 L311.8,1450.11 L313.88,1450.09 L315.95,1450.07 L318.02,1450.05 L320.1,1450.03 L322.17,1450.01 L324.25,1449.98 L326.32,1449.96 L328.4,1449.94 L330.47,1449.92 L332.55,1449.9 L334.62,1449.88 L336.7,1449.86 L338.77,1449.84 L340.85,1449.82 L342.93,1449.79 L345,1449.77 L347.07,1449.75 L349.15,1449.73 L351.22,1449.71 L353.3,1449.69 L355.38,1449.67 L357.45,1449.65 L359.52,1449.62 L361.6,1449.6 L363.67,1449.58 L365.75,1449.56 L367.82,1449.54 L369.9,1449.52 L371.97,1449.5 L374.05,1449.48 L376.12,1449.46 L378.2,1449.43 L380.27,1449.41 L382.35,1449.39 L384.42,1449.37 L386.5,1449.35 L388.57,1449.33 L390.65,1449.31 L392.72,1449.29 L394.8,1449.26 L396.88,1449.24 L398.95,1449.22 L401.02,1449.2 L403.1,1449.18 L405.18,1449.16 L407.25,1449.14 L409.32,1449.12 L411.4,1449.1 L413.47,1449.07 L415.55,1449.05 L417.62,1449.03 L419.7,1449.01 L421.77,1448.99 L423.85,1448.97 L425.92,1448.95 L428,1448.93 L430.07,1448.9 L432.15,1448.88 L434.22,1448.86 L436.3,1448.84 L438.38,1448.82 L440.45,1448.8 L442.52,1448.78 L444.6,1448.76 L446.68,1448.73 L448.75,1448.71 L450.82,1448.69 L452.9,1448.67 L454.97,1448.65 L457.05,1448.63 L459.12,1448.61 L461.2,1448.59 L463.27,1448.57 L465.35,1448.54 L467.42,1448.52 L469.5,1448.5 L471.57,1448.48 L473.65,1448.46 L475.73,1448.44 L477.8,1448.42 L479.87,1448.4 L481.95,1448.37 L484.02,1448.35 L486.1,1448.33 L488.17,1448.31 L490.25,1448.29 L492.32,1448.27 L494.4,1448.25 L496.47,1448.23 L498.55,1448.21 L500.62,1448.18 L502.7,1448.16 L504.77,1448.14 L506.85,1448.12 L508.92,1448.1 L511,1448.08 L513.07,1448.06 L515.15,1448.04 L517.23,1448.01 L519.3,1447.99 L521.38,1447.97 L523.45,1447.95 L525.52,1447.93 L527.6,1447.91 L529.67,1447.89 L531.75,1447.87 L533.83,1447.85 L535.9,1447.82 L537.97,1447.8 L540.05,1447.78 L542.12,1447.76 L544.2,1447.74 L546.27,1447.72 L548.35,1447.7 L550.43,1447.68 L552.5,1447.65 L554.58,1447.63 L556.65,1447.61 L558.72,1447.59 L560.8,1447.57 L562.87,1447.55 L564.95,1447.53 L567.02,1447.51 L569.1,1447.49 L571.18,1447.46 L573.25,1447.44 L575.33,1447.42 L577.4,1447.4 L579.47,1447.38 L581.55,1447.36 L583.62,1447.34 L585.7,1447.32 L587.77,1447.29 L589.85,1447.27 L591.92,1447.25 L594,1447.23 L596.08,1447.21 L598.15,1447.19 L600.23,1447.17 L602.3,1447.15 L604.38,1447.12 L606.45,1447.1 L608.52,1447.08 L610.6,1447.06 L612.67,1447.04 L614.75,1447.02 L616.83,1447 L618.9,1446.98 L620.98,1446.96 L623.05,1446.93 L625.12,1446.91 L627.2,1446.89 L629.27,1446.87 L631.35,1446.85 L633.43,1446.83 L635.5,1446.81 L637.58,1446.79 L639.65,1446.76 L641.72,1446.74 L643.8,1446.72 L645.88,1446.7 L647.95,1446.68 L650.03,1446.66 L652.1,1446.64 L654.18,1446.62 L656.25,1446.6 L658.33,1446.57 L660.4,1446.55 L662.47,1446.53 L664.55,1446.51 L666.62,1446.49 L668.7,1446.47" fill="none" stroke="#a47cdb" stroke-width="3.2" stroke-linecap="butt"/>
<path d="M87.7,1452.4 L89.78,1450.97 L91.85,1449.55 L93.92,1448.12 L96,1446.7 L98.08,1445.27 L100.15,1443.85 L102.22,1442.43 L104.3,1441.01 L106.38,1439.59 L108.45,1438.17 L110.53,1436.76 L112.6,1435.34 L114.68,1433.93 L116.75,1432.51 L118.83,1431.1 L120.9,1429.69 L122.97,1428.28 L125.05,1426.87 L127.12,1425.46 L129.2,1424.06 L131.28,1422.65 L133.35,1421.25 L135.43,1419.85 L137.5,1418.45 L139.57,1417.05 L141.65,1415.65 L143.72,1414.25 L145.8,1412.85 L147.88,1411.46 L149.95,1410.06 L152.03,1408.67 L154.1,1407.28 L156.18,1405.89 L158.25,1404.5 L160.32,1403.11 L162.4,1401.73 L164.48,1400.34 L166.55,1398.96 L168.62,1397.58 L170.7,1396.2 L172.77,1394.82 L174.85,1393.44 L176.93,1392.06 L179,1390.69 L181.07,1389.31 L183.15,1387.94 L185.22,1386.57 L187.3,1385.2 L189.38,1383.83 L191.45,1382.47 L193.52,1381.1 L195.6,1379.74 L197.67,1378.37 L199.75,1377.01 L201.83,1375.65 L203.9,1374.3 L205.97,1372.94 L208.05,1371.58 L210.12,1370.23 L212.2,1368.88 L214.28,1367.53 L216.35,1366.18 L218.42,1364.83 L220.5,1363.49 L222.57,1362.14 L224.65,1360.8 L226.72,1359.46 L228.8,1358.12 L230.88,1356.78 L232.95,1355.44 L235.02,1354.11 L237.1,1352.78 L239.17,1351.44 L241.25,1350.11 L243.32,1348.79 L245.4,1347.46 L247.48,1346.13 L249.55,1344.81 L251.62,1343.49 L253.7,1342.17 L255.77,1340.85 L257.85,1339.54 L259.93,1338.22 L262,1336.91 L264.07,1335.6 L266.15,1334.29 L268.23,1332.98 L270.3,1331.67 L272.38,1330.37 L274.45,1329.06 L276.52,1327.76 L278.6,1326.46 L280.68,1325.17 L282.75,1323.87 L284.82,1322.58 L286.9,1321.28 L288.97,1319.99 L291.05,1318.71 L293.12,1317.42 L295.2,1316.13 L297.27,1314.85 L299.35,1313.57 L301.43,1312.29 L303.5,1311.01 L305.57,1309.74 L307.65,1308.46 L309.72,1307.19 L311.8,1305.92 L313.88,1304.66 L315.95,1303.39 L318.02,1302.13 L320.1,1300.86 L322.17,1299.6 L324.25,1298.34 L326.32,1297.09 L328.4,1295.83 L330.47,1294.58 L332.55,1293.33 L334.62,1292.08 L336.7,1290.84 L338.77,1289.59 L340.85,1288.35 L342.93,1287.11 L345,1285.87 L347.07,1284.63 L349.15,1283.4 L351.22,1282.17 L353.3,1280.94 L355.38,1279.71 L357.45,1278.48 L359.52,1277.26 L361.6,1276.04 L363.67,1274.82 L365.75,1273.6 L367.82,1272.39 L369.9,1271.17 L371.97,1269.96 L374.05,1268.75 L376.12,1267.55 L378.2,1266.34 L380.27,1265.14 L382.35,1263.94 L384.42,1262.74 L386.5,1261.54 L388.57,1260.35 L390.65,1259.16 L392.72,1257.97 L394.8,1256.78 L396.88,1255.6 L398.95,1254.41 L401.02,1253.23 L403.1,1252.05 L405.18,1250.88 L407.25,1249.71 L409.32,1248.53 L411.4,1247.36 L413.47,1246.2 L415.55,1245.03 L417.62,1243.87 L419.7,1242.71 L421.77,1241.55 L423.85,1240.4 L425.92,1239.25 L428,1238.09 L430.07,1236.95 L432.15,1235.8 L434.22,1234.66 L436.3,1233.52 L438.38,1232.38 L440.45,1231.24 L442.52,1230.11 L444.6,1228.98 L446.68,1227.85 L448.75,1226.72 L450.82,1225.6 L452.9,1224.47 L454.97,1223.35 L457.05,1222.24 L459.12,1221.12 L461.2,1220.01 L463.27,1218.9 L465.35,1217.8 L467.42,1216.69 L469.5,1215.59 L471.57,1214.49 L473.65,1213.39 L475.73,1212.3 L477.8,1211.21 L479.87,1210.12 L481.95,1209.03 L484.02,1207.95 L486.1,1206.87 L488.17,1205.79 L490.25,1204.71 L492.32,1203.64 L494.4,1202.57 L496.47,1201.5 L498.55,1200.43 L500.62,1199.37 L502.7,1198.31 L504.77,1197.25 L506.85,1196.2 L508.92,1195.14 L511,1194.09 L513.07,1193.05 L515.15,1192 L517.23,1190.96 L519.3,1189.92 L521.38,1188.88 L523.45,1187.85 L525.52,1186.82 L527.6,1185.79 L529.67,1184.76 L531.75,1183.74 L533.83,1182.72 L535.9,1181.7 L537.97,1180.69 L540.05,1179.68 L542.12,1178.67 L544.2,1177.66 L546.27,1176.66 L548.35,1175.66 L550.43,1174.66 L552.5,1173.67 L554.58,1172.68 L556.65,1171.69 L558.72,1170.7 L560.8,1169.72 L562.87,1168.74 L564.95,1167.76 L567.02,1166.78 L569.1,1165.81 L571.18,1164.84 L573.25,1163.88 L575.33,1162.91 L577.4,1161.95 L579.47,1161 L581.55,1160.04 L583.62,1159.09 L585.7,1158.14 L587.77,1157.2 L589.85,1156.26 L591.92,1155.32 L594,1154.38 L596.08,1153.45 L598.15,1152.52 L600.23,1151.59 L602.3,1150.66 L604.38,1149.74 L606.45,1148.82 L608.52,1147.91 L610.6,1147 L612.67,1146.09 L614.75,1145.18 L616.83,1144.28 L618.9,1143.38 L620.98,1142.48 L623.05,1141.59 L625.12,1140.7 L627.2,1139.81 L629.27,1138.93 L631.35,1138.05 L633.43,1137.17 L635.5,1136.29 L637.58,1135.42 L639.65,1134.55 L641.72,1133.69 L643.8,1132.83 L645.88,1131.97 L647.95,1131.11 L650.03,1130.26 L652.1,1129.41 L654.18,1128.56 L656.25,1127.72 L658.33,1126.88 L660.4,1126.04 L662.47,1125.21 L664.55,1124.38 L666.62,1123.56 L668.7,1122.73" fill="none" stroke="#4f4f4f" stroke-width="2.6" stroke-linecap="butt"/>
<path d="M87.7,1452.4 L89.78,1451.46 L91.85,1450.52 L93.92,1449.57 L96,1448.63 L98.08,1447.69 L100.15,1446.75 L102.22,1445.81 L104.3,1444.87 L106.38,1443.93 L108.45,1442.99 L110.53,1442.05 L112.6,1441.11 L114.68,1440.17 L116.75,1439.23 L118.83,1438.29 L120.9,1437.35 L122.97,1436.41 L125.05,1435.47 L127.12,1434.53 L129.2,1433.6 L131.28,1432.66 L133.35,1431.72 L135.43,1430.79 L137.5,1429.85 L139.57,1428.91 L141.65,1427.98 L143.72,1427.04 L145.8,1426.11 L147.88,1425.17 L149.95,1424.24 L152.03,1423.31 L154.1,1422.37 L156.18,1421.44 L158.25,1420.51 L160.32,1419.57 L162.4,1418.64 L164.48,1417.71 L166.55,1416.78 L168.62,1415.85 L170.7,1414.92 L172.77,1413.99 L174.85,1413.06 L176.93,1412.13 L179,1411.2 L181.07,1410.27 L183.15,1409.35 L185.22,1408.42 L187.3,1407.49 L189.38,1406.56 L191.45,1405.64 L193.52,1404.71 L195.6,1403.79 L197.67,1402.86 L199.75,1401.94 L201.83,1401.02 L203.9,1400.09 L205.97,1399.17 L208.05,1398.25 L210.12,1397.33 L212.2,1396.41 L214.28,1395.49 L216.35,1394.57 L218.42,1393.65 L220.5,1392.73 L222.57,1391.81 L224.65,1390.89 L226.72,1389.97 L228.8,1389.06 L230.88,1388.14 L232.95,1387.23 L235.02,1386.31 L237.1,1385.4 L239.17,1384.48 L241.25,1383.57 L243.32,1382.66 L245.4,1381.75 L247.48,1380.83 L249.55,1379.92 L251.62,1379.01 L253.7,1378.1 L255.77,1377.19 L257.85,1376.29 L259.93,1375.38 L262,1374.47 L264.07,1373.57 L266.15,1372.66 L268.23,1371.76 L270.3,1370.85 L272.38,1369.95 L274.45,1369.04 L276.52,1368.14 L278.6,1367.24 L280.68,1366.34 L282.75,1365.44 L284.82,1364.54 L286.9,1363.64 L288.97,1362.74 L291.05,1361.84 L293.12,1360.95 L295.2,1360.05 L297.27,1359.16 L299.35,1358.26 L301.43,1357.37 L303.5,1356.48 L305.57,1355.58 L307.65,1354.69 L309.72,1353.8 L311.8,1352.91 L313.88,1352.02 L315.95,1351.13 L318.02,1350.25 L320.1,1349.36 L322.17,1348.47 L324.25,1347.59 L326.32,1346.7 L328.4,1345.82 L330.47,1344.94 L332.55,1344.06 L334.62,1343.17 L336.7,1342.29 L338.77,1341.41 L340.85,1340.54 L342.93,1339.66 L345,1338.78 L347.07,1337.91 L349.15,1337.03 L351.22,1336.16 L353.3,1335.28 L355.38,1334.41 L357.45,1333.54 L359.52,1332.67 L361.6,1331.8 L363.67,1330.93 L365.75,1330.06 L367.82,1329.19 L369.9,1328.33 L371.97,1327.46 L374.05,1326.6 L376.12,1325.73 L378.2,1324.87 L380.27,1324.01 L382.35,1323.15 L384.42,1322.29 L386.5,1321.43 L388.57,1320.57 L390.65,1319.72 L392.72,1318.86 L394.8,1318.01 L396.88,1317.15 L398.95,1316.3 L401.02,1315.45 L403.1,1314.6 L405.18,1313.75 L407.25,1312.9 L409.32,1312.05 L411.4,1311.2 L413.47,1310.36 L415.55,1309.51 L417.62,1308.67 L419.7,1307.83 L421.77,1306.98 L423.85,1306.14 L425.92,1305.3 L428,1304.47 L430.07,1303.63 L432.15,1302.79 L434.22,1301.96 L436.3,1301.12 L438.38,1300.29 L440.45,1299.46 L442.52,1298.63 L444.6,1297.8 L446.68,1296.97 L448.75,1296.14 L450.82,1295.31 L452.9,1294.49 L454.97,1293.67 L457.05,1292.84 L459.12,1292.02 L461.2,1291.2 L463.27,1290.38 L465.35,1289.56 L467.42,1288.74 L469.5,1287.93 L471.57,1287.11 L473.65,1286.3 L475.73,1285.49 L477.8,1284.68 L479.87,1283.87 L481.95,1283.06 L484.02,1282.25 L486.1,1281.44 L488.17,1280.64 L490.25,1279.83 L492.32,1279.03 L494.4,1278.23 L496.47,1277.43 L498.55,1276.63 L500.62,1275.83 L502.7,1275.04 L504.77,1274.24 L506.85,1273.45 L508.92,1272.65 L511,1271.86 L513.07,1271.07 L515.15,1270.28 L517.23,1269.5 L519.3,1268.71 L521.38,1267.92 L523.45,1267.14 L525.52,1266.36 L527.6,1265.58 L529.67,1264.8 L531.75,1264.02 L533.83,1263.24 L535.9,1262.47 L537.97,1261.69 L540.05,1260.92 L542.12,1260.15 L544.2,1259.38 L546.27,1258.61 L548.35,1257.84 L550.43,1257.07 L552.5,1256.31 L554.58,1255.54 L556.65,1254.78 L558.72,1254.02 L560.8,1253.26 L562.87,1252.5 L564.95,1251.75 L567.02,1250.99 L569.1,1250.24 L571.18,1249.49 L573.25,1248.74 L575.33,1247.99 L577.4,1247.24 L579.47,1246.49 L581.55,1245.75 L583.62,1245 L585.7,1244.26 L587.77,1243.52 L589.85,1242.78 L591.92,1242.04 L594,1241.31 L596.08,1240.57 L598.15,1239.84 L600.23,1239.11 L602.3,1238.38 L604.38,1237.65 L606.45,1236.92 L608.52,1236.2 L610.6,1235.47 L612.67,1234.75 L614.75,1234.03 L616.83,1233.31 L618.9,1232.59 L620.98,1231.88 L623.05,1231.16 L625.12,1230.45 L627.2,1229.74 L629.27,1229.03 L631.35,1228.32 L633.43,1227.61 L635.5,1226.9 L637.58,1226.2 L639.65,1225.5 L641.72,1224.8 L643.8,1224.1 L645.88,1223.4 L647.95,1222.71 L650.03,1222.01 L652.1,1221.32 L654.18,1220.63 L656.25,1219.94 L658.33,1219.25 L660.4,1218.57 L662.47,1217.88 L664.55,1217.2 L666.62,1216.52 L668.7,1215.84" fill="none" stroke="#ee3e42" stroke-width="2.6" stroke-linecap="butt"/>
<path d="M87.7,1452.4 L89.78,1451.83 L91.85,1451.25 L93.92,1450.68 L96,1450.11 L98.08,1449.54 L100.15,1448.97 L102.22,1448.4 L104.3,1447.83 L106.38,1447.26 L108.45,1446.69 L110.53,1446.12 L112.6,1445.55 L114.68,1444.98 L116.75,1444.41 L118.83,1443.84 L120.9,1443.28 L122.97,1442.71 L125.05,1442.14 L127.12,1441.58 L129.2,1441.01 L131.28,1440.44 L133.35,1439.88 L135.43,1439.31 L137.5,1438.75 L139.57,1438.18 L141.65,1437.62 L143.72,1437.06 L145.8,1436.49 L147.88,1435.93 L149.95,1435.37 L152.03,1434.8 L154.1,1434.24 L156.18,1433.68 L158.25,1433.12 L160.32,1432.56 L162.4,1432 L164.48,1431.43 L166.55,1430.87 L168.62,1430.31 L170.7,1429.75 L172.77,1429.2 L174.85,1428.64 L176.93,1428.08 L179,1427.52 L181.07,1426.96 L183.15,1426.4 L185.22,1425.85 L187.3,1425.29 L189.38,1424.73 L191.45,1424.18 L193.52,1423.62 L195.6,1423.07 L197.67,1422.51 L199.75,1421.96 L201.83,1421.4 L203.9,1420.85 L205.97,1420.29 L208.05,1419.74 L210.12,1419.19 L212.2,1418.63 L214.28,1418.08 L216.35,1417.53 L218.42,1416.98 L220.5,1416.43 L222.57,1415.88 L224.65,1415.32 L226.72,1414.77 L228.8,1414.22 L230.88,1413.67 L232.95,1413.12 L235.02,1412.58 L237.1,1412.03 L239.17,1411.48 L241.25,1410.93 L243.32,1410.38 L245.4,1409.84 L247.48,1409.29 L249.55,1408.74 L251.62,1408.19 L253.7,1407.65 L255.77,1407.1 L257.85,1406.56 L259.93,1406.01 L262,1405.47 L264.07,1404.92 L266.15,1404.38 L268.23,1403.84 L270.3,1403.29 L272.38,1402.75 L274.45,1402.21 L276.52,1401.66 L278.6,1401.12 L280.68,1400.58 L282.75,1400.04 L284.82,1399.5 L286.9,1398.96 L288.97,1398.42 L291.05,1397.88 L293.12,1397.34 L295.2,1396.8 L297.27,1396.26 L299.35,1395.72 L301.43,1395.18 L303.5,1394.64 L305.57,1394.11 L307.65,1393.57 L309.72,1393.03 L311.8,1392.5 L313.88,1391.96 L315.95,1391.42 L318.02,1390.89 L320.1,1390.35 L322.17,1389.82 L324.25,1389.28 L326.32,1388.75 L328.4,1388.21 L330.47,1387.68 L332.55,1387.15 L334.62,1386.61 L336.7,1386.08 L338.77,1385.55 L340.85,1385.02 L342.93,1384.49 L345,1383.95 L347.07,1383.42 L349.15,1382.89 L351.22,1382.36 L353.3,1381.83 L355.38,1381.3 L357.45,1380.77 L359.52,1380.24 L361.6,1379.72 L363.67,1379.19 L365.75,1378.66 L367.82,1378.13 L369.9,1377.61 L371.97,1377.08 L374.05,1376.55 L376.12,1376.03 L378.2,1375.5 L380.27,1374.97 L382.35,1374.45 L384.42,1373.92 L386.5,1373.4 L388.57,1372.88 L390.65,1372.35 L392.72,1371.83 L394.8,1371.31 L396.88,1370.78 L398.95,1370.26 L401.02,1369.74 L403.1,1369.22 L405.18,1368.69 L407.25,1368.17 L409.32,1367.65 L411.4,1367.13 L413.47,1366.61 L415.55,1366.09 L417.62,1365.57 L419.7,1365.05 L421.77,1364.53 L423.85,1364.02 L425.92,1363.5 L428,1362.98 L430.07,1362.46 L432.15,1361.95 L434.22,1361.43 L436.3,1360.91 L438.38,1360.4 L440.45,1359.88 L442.52,1359.36 L444.6,1358.85 L446.68,1358.34 L448.75,1357.82 L450.82,1357.31 L452.9,1356.79 L454.97,1356.28 L457.05,1355.77 L459.12,1355.25 L461.2,1354.74 L463.27,1354.23 L465.35,1353.72 L467.42,1353.21 L469.5,1352.69 L471.57,1352.18 L473.65,1351.67 L475.73,1351.16 L477.8,1350.65 L479.87,1350.14 L481.95,1349.64 L484.02,1349.13 L486.1,1348.62 L488.17,1348.11 L490.25,1347.6 L492.32,1347.1 L494.4,1346.59 L496.47,1346.08 L498.55,1345.58 L500.62,1345.07 L502.7,1344.56 L504.77,1344.06 L506.85,1343.55 L508.92,1343.05 L511,1342.54 L513.07,1342.04 L515.15,1341.54 L517.23,1341.03 L519.3,1340.53 L521.38,1340.03 L523.45,1339.53 L525.52,1339.02 L527.6,1338.52 L529.67,1338.02 L531.75,1337.52 L533.83,1337.02 L535.9,1336.52 L537.97,1336.02 L540.05,1335.52 L542.12,1335.02 L544.2,1334.52 L546.27,1334.02 L548.35,1333.52 L550.43,1333.03 L552.5,1332.53 L554.58,1332.03 L556.65,1331.53 L558.72,1331.04 L560.8,1330.54 L562.87,1330.05 L564.95,1329.55 L567.02,1329.06 L569.1,1328.56 L571.18,1328.07 L573.25,1327.57 L575.33,1327.08 L577.4,1326.58 L579.47,1326.09 L581.55,1325.6 L583.62,1325.11 L585.7,1324.61 L587.77,1324.12 L589.85,1323.63 L591.92,1323.14 L594,1322.65 L596.08,1322.16 L598.15,1321.67 L600.23,1321.18 L602.3,1320.69 L604.38,1320.2 L606.45,1319.71 L608.52,1319.22 L610.6,1318.73 L612.67,1318.25 L614.75,1317.76 L616.83,1317.27 L618.9,1316.78 L620.98,1316.3 L623.05,1315.81 L625.12,1315.33 L627.2,1314.84 L629.27,1314.36 L631.35,1313.87 L633.43,1313.39 L635.5,1312.9 L637.58,1312.42 L639.65,1311.93 L641.72,1311.45 L643.8,1310.97 L645.88,1310.49 L647.95,1310 L650.03,1309.52 L652.1,1309.04 L654.18,1308.56 L656.25,1308.08 L658.33,1307.6 L660.4,1307.12 L662.47,1306.64 L664.55,1306.16 L666.62,1305.68 L668.7,1305.2" fill="none" stroke="#2fa463" stroke-width="2.6" stroke-linecap="butt"/>
<path d="M87.7,1452.4 L89.78,1452.1 L91.85,1451.8 L93.92,1451.51 L96,1451.21 L98.08,1450.91 L100.15,1450.61 L102.22,1450.32 L104.3,1450.02 L106.38,1449.73 L108.45,1449.43 L110.53,1449.14 L112.6,1448.85 L114.68,1448.55 L116.75,1448.26 L118.83,1447.97 L120.9,1447.68 L122.97,1447.39 L125.05,1447.09 L127.12,1446.8 L129.2,1446.51 L131.28,1446.23 L133.35,1445.94 L135.43,1445.65 L137.5,1445.36 L139.57,1445.07 L141.65,1444.79 L143.72,1444.5 L145.8,1444.21 L147.88,1443.93 L149.95,1443.64 L152.03,1443.36 L154.1,1443.07 L156.18,1442.79 L158.25,1442.51 L160.32,1442.22 L162.4,1441.94 L164.48,1441.66 L166.55,1441.38 L168.62,1441.1 L170.7,1440.82 L172.77,1440.54 L174.85,1440.26 L176.93,1439.98 L179,1439.7 L181.07,1439.42 L183.15,1439.15 L185.22,1438.87 L187.3,1438.59 L189.38,1438.32 L191.45,1438.04 L193.52,1437.77 L195.6,1437.49 L197.67,1437.22 L199.75,1436.94 L201.83,1436.67 L203.9,1436.4 L205.97,1436.12 L208.05,1435.85 L210.12,1435.58 L212.2,1435.31 L214.28,1435.04 L216.35,1434.77 L218.42,1434.5 L220.5,1434.23 L222.57,1433.96 L224.65,1433.69 L226.72,1433.43 L228.8,1433.16 L230.88,1432.89 L232.95,1432.63 L235.02,1432.36 L237.1,1432.1 L239.17,1431.83 L241.25,1431.57 L243.32,1431.3 L245.4,1431.04 L247.48,1430.78 L249.55,1430.51 L251.62,1430.25 L253.7,1429.99 L255.77,1429.73 L257.85,1429.47 L259.93,1429.21 L262,1428.95 L264.07,1428.69 L266.15,1428.43 L268.23,1428.17 L270.3,1427.92 L272.38,1427.66 L274.45,1427.4 L276.52,1427.15 L278.6,1426.89 L280.68,1426.63 L282.75,1426.38 L284.82,1426.13 L286.9,1425.87 L288.97,1425.62 L291.05,1425.36 L293.12,1425.11 L295.2,1424.86 L297.27,1424.61 L299.35,1424.36 L301.43,1424.11 L303.5,1423.86 L305.57,1423.61 L307.65,1423.36 L309.72,1423.11 L311.8,1422.86 L313.88,1422.61 L315.95,1422.37 L318.02,1422.12 L320.1,1421.87 L322.17,1421.63 L324.25,1421.38 L326.32,1421.14 L328.4,1420.89 L330.47,1420.65 L332.55,1420.4 L334.62,1420.16 L336.7,1419.92 L338.77,1419.68 L340.85,1419.43 L342.93,1419.19 L345,1418.95 L347.07,1418.71 L349.15,1418.47 L351.22,1418.23 L353.3,1417.99 L355.38,1417.76 L357.45,1417.52 L359.52,1417.28 L361.6,1417.04 L363.67,1416.81 L365.75,1416.57 L367.82,1416.34 L369.9,1416.1 L371.97,1415.87 L374.05,1415.63 L376.12,1415.4 L378.2,1415.17 L380.27,1414.93 L382.35,1414.7 L384.42,1414.47 L386.5,1414.24 L388.57,1414.01 L390.65,1413.78 L392.72,1413.55 L394.8,1413.32 L396.88,1413.09 L398.95,1412.86 L401.02,1412.63 L403.1,1412.4 L405.18,1412.18 L407.25,1411.95 L409.32,1411.73 L411.4,1411.5 L413.47,1411.27 L415.55,1411.05 L417.62,1410.83 L419.7,1410.6 L421.77,1410.38 L423.85,1410.16 L425.92,1409.93 L428,1409.71 L430.07,1409.49 L432.15,1409.27 L434.22,1409.05 L436.3,1408.83 L438.38,1408.61 L440.45,1408.39 L442.52,1408.17 L444.6,1407.95 L446.68,1407.74 L448.75,1407.52 L450.82,1407.3 L452.9,1407.09 L454.97,1406.87 L457.05,1406.66 L459.12,1406.44 L461.2,1406.23 L463.27,1406.01 L465.35,1405.8 L467.42,1405.59 L469.5,1405.37 L471.57,1405.16 L473.65,1404.95 L475.73,1404.74 L477.8,1404.53 L479.87,1404.32 L481.95,1404.11 L484.02,1403.9 L486.1,1403.69 L488.17,1403.48 L490.25,1403.28 L492.32,1403.07 L494.4,1402.86 L496.47,1402.66 L498.55,1402.45 L500.62,1402.24 L502.7,1402.04 L504.77,1401.84 L506.85,1401.63 L508.92,1401.43 L511,1401.23 L513.07,1401.02 L515.15,1400.82 L517.23,1400.62 L519.3,1400.42 L521.38,1400.22 L523.45,1400.02 L525.52,1399.82 L527.6,1399.62 L529.67,1399.42 L531.75,1399.22 L533.83,1399.02 L535.9,1398.83 L537.97,1398.63 L540.05,1398.43 L542.12,1398.24 L544.2,1398.04 L546.27,1397.85 L548.35,1397.65 L550.43,1397.46 L552.5,1397.27 L554.58,1397.07 L556.65,1396.88 L558.72,1396.69 L560.8,1396.5 L562.87,1396.3 L564.95,1396.11 L567.02,1395.92 L569.1,1395.73 L571.18,1395.54 L573.25,1395.36 L575.33,1395.17 L577.4,1394.98 L579.47,1394.79 L581.55,1394.61 L583.62,1394.42 L585.7,1394.23 L587.77,1394.05 L589.85,1393.86 L591.92,1393.68 L594,1393.49 L596.08,1393.31 L598.15,1393.13 L600.23,1392.94 L602.3,1392.76 L604.38,1392.58 L606.45,1392.4 L608.52,1392.22 L610.6,1392.04 L612.67,1391.86 L614.75,1391.68 L616.83,1391.5 L618.9,1391.32 L620.98,1391.14 L623.05,1390.97 L625.12,1390.79 L627.2,1390.61 L629.27,1390.44 L631.35,1390.26 L633.43,1390.09 L635.5,1389.91 L637.58,1389.74 L639.65,1389.56 L641.72,1389.39 L643.8,1389.22 L645.88,1389.05 L647.95,1388.87 L650.03,1388.7 L652.1,1388.53 L654.18,1388.36 L656.25,1388.19 L658.33,1388.02 L660.4,1387.85 L662.47,1387.68 L664.55,1387.52 L666.62,1387.35 L668.7,1387.18" fill="none" stroke="#1b6fdf" stroke-width="2.6" stroke-linecap="butt"/>
<circle cx="129.08" cy="1394.75" r="6.35" fill="#fff" stroke="#8510f0" stroke-width="2.8" />
<ellipse cx="129.08" cy="1394.75" rx="1.9" ry="1.25" fill="#8510f0"/>
<circle cx="139.57" cy="1386.62" r="6.35" fill="#fff" stroke="#8510f0" stroke-width="2.8" />
<ellipse cx="139.57" cy="1386.62" rx="1.9" ry="1.25" fill="#8510f0"/>
<circle cx="160.53" cy="1370.34" r="6.35" fill="#fff" stroke="#8510f0" stroke-width="2.8" />
<ellipse cx="160.53" cy="1370.34" rx="1.9" ry="1.25" fill="#8510f0"/>
<circle cx="170.7" cy="1363.2" r="6.35" fill="#fff" stroke="#8510f0" stroke-width="2.8" />
<ellipse cx="170.7" cy="1363.2" rx="1.9" ry="1.25" fill="#8510f0"/>
<circle cx="180.25" cy="1352.5" r="6.35" fill="#fff" stroke="#8510f0" stroke-width="2.8" />
<ellipse cx="180.25" cy="1352.5" rx="1.9" ry="1.25" fill="#8510f0"/>
<circle cx="191.45" cy="1346.59" r="6.35" fill="#fff" stroke="#8510f0" stroke-width="2.8" />
<ellipse cx="191.45" cy="1346.59" rx="1.9" ry="1.25" fill="#8510f0"/>
<circle cx="202.66" cy="1340.23" r="6.35" fill="#fff" stroke="#8510f0" stroke-width="2.8" />
<ellipse cx="202.66" cy="1340.23" rx="1.9" ry="1.25" fill="#8510f0"/>
<circle cx="211.78" cy="1334.99" r="6.35" fill="#fff" stroke="#8510f0" stroke-width="2.8" />
<ellipse cx="211.78" cy="1334.99" rx="1.9" ry="1.25" fill="#8510f0"/>
<circle cx="243.32" cy="1316.37" r="6.35" fill="#fff" stroke="#8510f0" stroke-width="2.8" />
<ellipse cx="243.32" cy="1316.37" rx="1.9" ry="1.25" fill="#8510f0"/>
<circle cx="253.7" cy="1313.03" r="6.35" fill="#fff" stroke="#8510f0" stroke-width="2.8" />
<ellipse cx="253.7" cy="1313.03" rx="1.9" ry="1.25" fill="#8510f0"/>
<circle cx="284.82" cy="1284.04" r="6.35" fill="#fff" stroke="#8510f0" stroke-width="2.8" />
<ellipse cx="284.82" cy="1284.04" rx="1.9" ry="1.25" fill="#8510f0"/>
<circle cx="357.45" cy="1221.6" r="6.35" fill="#fff" stroke="#8510f0" stroke-width="2.8" />
<ellipse cx="357.45" cy="1221.6" rx="1.9" ry="1.25" fill="#8510f0"/>
<circle cx="368.24" cy="1211.56" r="6.35" fill="#fff" stroke="#8510f0" stroke-width="2.8" />
<ellipse cx="368.24" cy="1211.56" rx="1.9" ry="1.25" fill="#8510f0"/>
<circle cx="378.2" cy="1222.71" r="6.35" fill="#fff" stroke="#8510f0" stroke-width="2.8" />
<ellipse cx="378.2" cy="1222.71" rx="1.9" ry="1.25" fill="#8510f0"/>
<circle cx="388.16" cy="1191.49" r="6.35" fill="#fff" stroke="#8510f0" stroke-width="2.8" />
<ellipse cx="388.16" cy="1191.49" rx="1.9" ry="1.25" fill="#8510f0"/>
<circle cx="409.32" cy="1193.72" r="6.35" fill="#fff" stroke="#8510f0" stroke-width="2.8" />
<ellipse cx="409.32" cy="1193.72" rx="1.9" ry="1.25" fill="#8510f0"/>
<circle cx="419.7" cy="1168.08" r="6.35" fill="#fff" stroke="#8510f0" stroke-width="2.8" />
<ellipse cx="419.7" cy="1168.08" rx="1.9" ry="1.25" fill="#8510f0"/>
<circle cx="430.07" cy="1152.47" r="6.35" fill="#fff" stroke="#8510f0" stroke-width="2.8" />
<ellipse cx="430.07" cy="1152.47" rx="1.9" ry="1.25" fill="#8510f0"/>
<circle cx="481.95" cy="1102.29" r="6.35" fill="#fff" stroke="#8510f0" stroke-width="2.8" />
<ellipse cx="481.95" cy="1102.29" rx="1.9" ry="1.25" fill="#8510f0"/>
<circle cx="493.15" cy="1096.72" r="6.35" fill="#fff" stroke="#8510f0" stroke-width="2.8" />
<ellipse cx="493.15" cy="1096.72" rx="1.9" ry="1.25" fill="#8510f0"/>
<circle cx="502.7" cy="1095.6" r="6.35" fill="#fff" stroke="#8510f0" stroke-width="2.8" />
<ellipse cx="502.7" cy="1095.6" rx="1.9" ry="1.25" fill="#8510f0"/>
<circle cx="534.24" cy="1064.38" r="6.35" fill="#fff" stroke="#8510f0" stroke-width="2.8" />
<ellipse cx="534.24" cy="1064.38" rx="1.9" ry="1.25" fill="#8510f0"/>
<circle cx="596.08" cy="1026.47" r="6.35" fill="#fff" stroke="#8510f0" stroke-width="2.8" />
<ellipse cx="596.08" cy="1026.47" rx="1.9" ry="1.25" fill="#8510f0"/>
<circle cx="616.83" cy="1005.29" r="6.35" fill="#fff" stroke="#8510f0" stroke-width="2.8" />
<ellipse cx="616.83" cy="1005.29" rx="1.9" ry="1.25" fill="#8510f0"/>
<circle cx="627.2" cy="1000.83" r="6.35" fill="#fff" stroke="#8510f0" stroke-width="2.8" />
<ellipse cx="627.2" cy="1000.83" rx="1.9" ry="1.25" fill="#8510f0"/>
<circle cx="139.57" cy="1370.11" r="6.35" fill="#fff" stroke="#e5a629" stroke-width="2.8" />
<ellipse cx="139.57" cy="1370.11" rx="1.9" ry="1.25" fill="#e5a629"/>
<circle cx="160.32" cy="1356.96" r="6.35" fill="#fff" stroke="#e5a629" stroke-width="2.8" />
<ellipse cx="160.32" cy="1356.96" rx="1.9" ry="1.25" fill="#e5a629"/>
<circle cx="179.83" cy="1343.13" r="6.35" fill="#fff" stroke="#e5a629" stroke-width="2.8" />
<ellipse cx="179.83" cy="1343.13" rx="1.9" ry="1.25" fill="#e5a629"/>
<circle cx="191.87" cy="1336.44" r="6.35" fill="#fff" stroke="#e5a629" stroke-width="2.8" />
<ellipse cx="191.87" cy="1336.44" rx="1.9" ry="1.25" fill="#e5a629"/>
<circle cx="201.83" cy="1334.21" r="6.35" fill="#fff" stroke="#e5a629" stroke-width="2.8" />
<ellipse cx="201.83" cy="1334.21" rx="1.9" ry="1.25" fill="#e5a629"/>
<circle cx="213.03" cy="1331.98" r="6.35" fill="#fff" stroke="#e5a629" stroke-width="2.8" />
<ellipse cx="213.03" cy="1331.98" rx="1.9" ry="1.25" fill="#e5a629"/>
<circle cx="243.32" cy="1310.8" r="6.35" fill="#fff" stroke="#e5a629" stroke-width="2.8" />
<ellipse cx="243.32" cy="1310.8" rx="1.9" ry="1.25" fill="#e5a629"/>
<circle cx="253.7" cy="1309.68" r="6.35" fill="#fff" stroke="#e5a629" stroke-width="2.8" />
<ellipse cx="253.7" cy="1309.68" rx="1.9" ry="1.25" fill="#e5a629"/>
<circle cx="264.07" cy="1306.34" r="6.35" fill="#fff" stroke="#e5a629" stroke-width="2.8" />
<ellipse cx="264.07" cy="1306.34" rx="1.9" ry="1.25" fill="#e5a629"/>
<circle cx="274.87" cy="1281.81" r="6.35" fill="#fff" stroke="#e5a629" stroke-width="2.8" />
<ellipse cx="274.87" cy="1281.81" rx="1.9" ry="1.25" fill="#e5a629"/>
<circle cx="326.32" cy="1252.82" r="6.35" fill="#fff" stroke="#e5a629" stroke-width="2.8" />
<ellipse cx="326.32" cy="1252.82" rx="1.9" ry="1.25" fill="#e5a629"/>
<circle cx="336.7" cy="1242.78" r="6.35" fill="#fff" stroke="#e5a629" stroke-width="2.8" />
<ellipse cx="336.7" cy="1242.78" rx="1.9" ry="1.25" fill="#e5a629"/>
<circle cx="357.45" cy="1217.47" r="6.35" fill="#fff" stroke="#e5a629" stroke-width="2.8" />
<ellipse cx="357.45" cy="1217.47" rx="1.9" ry="1.25" fill="#e5a629"/>
<circle cx="368.24" cy="1209.33" r="6.35" fill="#fff" stroke="#e5a629" stroke-width="2.8" />
<ellipse cx="368.24" cy="1209.33" rx="1.9" ry="1.25" fill="#e5a629"/>
<circle cx="378.2" cy="1224.94" r="6.35" fill="#fff" stroke="#e5a629" stroke-width="2.8" />
<ellipse cx="378.2" cy="1224.94" rx="1.9" ry="1.25" fill="#e5a629"/>
<circle cx="388.57" cy="1184.8" r="6.35" fill="#fff" stroke="#e5a629" stroke-width="2.8" />
<ellipse cx="388.57" cy="1184.8" rx="1.9" ry="1.25" fill="#e5a629"/>
<circle cx="398.95" cy="1178.11" r="6.35" fill="#fff" stroke="#e5a629" stroke-width="2.8" />
<ellipse cx="398.95" cy="1178.11" rx="1.9" ry="1.25" fill="#e5a629"/>
<circle cx="409.32" cy="1189.71" r="6.35" fill="#fff" stroke="#e5a629" stroke-width="2.8" />
<ellipse cx="409.32" cy="1189.71" rx="1.9" ry="1.25" fill="#e5a629"/>
<circle cx="419.7" cy="1166.51" r="6.35" fill="#fff" stroke="#e5a629" stroke-width="2.8" />
<ellipse cx="419.7" cy="1166.51" rx="1.9" ry="1.25" fill="#e5a629"/>
<circle cx="430.07" cy="1151.8" r="6.35" fill="#fff" stroke="#e5a629" stroke-width="2.8" />
<ellipse cx="430.07" cy="1151.8" rx="1.9" ry="1.25" fill="#e5a629"/>
<circle cx="440.45" cy="1150.24" r="6.35" fill="#fff" stroke="#e5a629" stroke-width="2.8" />
<ellipse cx="440.45" cy="1150.24" rx="1.9" ry="1.25" fill="#e5a629"/>
<circle cx="450.82" cy="1134.96" r="6.35" fill="#fff" stroke="#e5a629" stroke-width="2.8" />
<ellipse cx="450.82" cy="1134.96" rx="1.9" ry="1.25" fill="#e5a629"/>
<circle cx="461.2" cy="1126.82" r="6.35" fill="#fff" stroke="#e5a629" stroke-width="2.8" />
<ellipse cx="461.2" cy="1126.82" rx="1.9" ry="1.25" fill="#e5a629"/>
<circle cx="471.57" cy="1123.48" r="6.35" fill="#fff" stroke="#e5a629" stroke-width="2.8" />
<ellipse cx="471.57" cy="1123.48" rx="1.9" ry="1.25" fill="#e5a629"/>
<circle cx="481.95" cy="1098.28" r="6.35" fill="#fff" stroke="#e5a629" stroke-width="2.8" />
<ellipse cx="481.95" cy="1098.28" rx="1.9" ry="1.25" fill="#e5a629"/>
<circle cx="502.7" cy="1085.57" r="6.35" fill="#fff" stroke="#e5a629" stroke-width="2.8" />
<ellipse cx="502.7" cy="1085.57" rx="1.9" ry="1.25" fill="#e5a629"/>
<circle cx="513.49" cy="1067.73" r="6.35" fill="#fff" stroke="#e5a629" stroke-width="2.8" />
<ellipse cx="513.49" cy="1067.73" rx="1.9" ry="1.25" fill="#e5a629"/>
<circle cx="523.45" cy="1065.5" r="6.35" fill="#fff" stroke="#e5a629" stroke-width="2.8" />
<ellipse cx="523.45" cy="1065.5" rx="1.9" ry="1.25" fill="#e5a629"/>
<circle cx="534.24" cy="1062.15" r="6.35" fill="#fff" stroke="#e5a629" stroke-width="2.8" />
<ellipse cx="534.24" cy="1062.15" rx="1.9" ry="1.25" fill="#e5a629"/>
<circle cx="554.16" cy="1032.05" r="6.35" fill="#fff" stroke="#e5a629" stroke-width="2.8" />
<ellipse cx="554.16" cy="1032.05" rx="1.9" ry="1.25" fill="#e5a629"/>
<circle cx="564.54" cy="1042.08" r="6.35" fill="#fff" stroke="#e5a629" stroke-width="2.8" />
<ellipse cx="564.54" cy="1042.08" rx="1.9" ry="1.25" fill="#e5a629"/>
<circle cx="585.7" cy="1026.47" r="6.35" fill="#fff" stroke="#e5a629" stroke-width="2.8" />
<ellipse cx="585.7" cy="1026.47" rx="1.9" ry="1.25" fill="#e5a629"/>
<circle cx="606.04" cy="984.66" r="6.35" fill="#fff" stroke="#e5a629" stroke-width="2.8" />
<ellipse cx="606.04" cy="984.66" rx="1.9" ry="1.25" fill="#e5a629"/>
<circle cx="139.57" cy="1404.12" r="6.35" fill="#fff" />
<circle cx="150.37" cy="1398.66" r="6.35" fill="#fff" />
<circle cx="160.32" cy="1396.43" r="6.35" fill="#fff" />
<circle cx="170.29" cy="1389.96" r="6.35" fill="#fff" />
<circle cx="181.07" cy="1384.38" r="6.35" fill="#fff" />
<circle cx="191.03" cy="1375.47" r="6.35" fill="#fff" />
<circle cx="201.83" cy="1372.12" r="6.35" fill="#fff" />
<circle cx="211.78" cy="1366.55" r="6.35" fill="#fff" />
<circle cx="222.57" cy="1363.2" r="6.35" fill="#fff" />
<circle cx="243.32" cy="1346.7" r="6.35" fill="#fff" />
<circle cx="253.7" cy="1345.36" r="6.35" fill="#fff" />
<circle cx="264.07" cy="1346.03" r="6.35" fill="#fff" />
<circle cx="295.2" cy="1326.4" r="6.35" fill="#fff" />
<circle cx="305.57" cy="1324.18" r="6.35" fill="#fff" />
<circle cx="315.95" cy="1322.39" r="6.35" fill="#fff" />
<circle cx="326.32" cy="1304.11" r="6.35" fill="#fff" />
<circle cx="336.7" cy="1297.97" r="6.35" fill="#fff" />
<circle cx="347.07" cy="1294.07" r="6.35" fill="#fff" />
<circle cx="367.82" cy="1275.12" r="6.35" fill="#fff" />
<circle cx="378.2" cy="1267.87" r="6.35" fill="#fff" />
<circle cx="388.57" cy="1262.85" r="6.35" fill="#fff" />
<circle cx="419.7" cy="1244.34" r="6.35" fill="#fff" />
<circle cx="440.03" cy="1229.62" r="6.35" fill="#fff" />
<circle cx="450.82" cy="1224.05" r="6.35" fill="#fff" />
<circle cx="471.16" cy="1217.47" r="6.35" fill="#fff" />
<circle cx="481.95" cy="1212.12" r="6.35" fill="#fff" />
<circle cx="502.28" cy="1195.62" r="6.35" fill="#fff" />
<circle cx="513.49" cy="1195.39" r="6.35" fill="#fff" />
<circle cx="523.45" cy="1188.7" r="6.35" fill="#fff" />
<circle cx="554.16" cy="1175.88" r="6.35" fill="#fff" />
<circle cx="98.08" cy="1442.82" r="5.5" fill="#4f4f4f" />
<circle cx="108.45" cy="1436.03" r="5.5" fill="#4f4f4f" />
<circle cx="118.83" cy="1429.26" r="5.5" fill="#4f4f4f" />
<circle cx="129.2" cy="1422.55" r="5.5" fill="#4f4f4f" />
<circle cx="139.57" cy="1415.96" r="5.5" fill="#4f4f4f" />
<circle cx="149.95" cy="1409.54" r="5.5" fill="#4f4f4f" />
<circle cx="160.32" cy="1403.31" r="5.5" fill="#4f4f4f" />
<circle cx="170.7" cy="1397.22" r="5.5" fill="#4f4f4f" />
<circle cx="181.07" cy="1391.14" r="5.5" fill="#4f4f4f" />
<circle cx="191.45" cy="1384.88" r="5.5" fill="#4f4f4f" />
<circle cx="201.83" cy="1378.29" r="5.5" fill="#4f4f4f" />
<circle cx="212.2" cy="1371.31" r="5.5" fill="#4f4f4f" />
<circle cx="222.57" cy="1364.06" r="5.5" fill="#4f4f4f" />
<circle cx="232.95" cy="1356.72" r="5.5" fill="#4f4f4f" />
<circle cx="243.32" cy="1349.47" r="5.5" fill="#4f4f4f" />
<circle cx="253.7" cy="1342.41" r="5.5" fill="#4f4f4f" />
<circle cx="264.07" cy="1335.57" r="5.5" fill="#4f4f4f" />
<circle cx="274.45" cy="1328.9" r="5.5" fill="#4f4f4f" />
<circle cx="284.82" cy="1322.37" r="5.5" fill="#4f4f4f" />
<circle cx="295.2" cy="1315.92" r="5.5" fill="#4f4f4f" />
<circle cx="305.57" cy="1309.54" r="5.5" fill="#4f4f4f" />
<circle cx="315.95" cy="1303.21" r="5.5" fill="#4f4f4f" />
<circle cx="357.45" cy="1278.38" r="5.5" fill="#4f4f4f" />
<circle cx="367.82" cy="1272.29" r="5.5" fill="#4f4f4f" />
<circle cx="378.2" cy="1266.26" r="5.5" fill="#4f4f4f" />
<circle cx="388.57" cy="1260.28" r="5.5" fill="#4f4f4f" />
<circle cx="398.95" cy="1254.35" r="5.5" fill="#4f4f4f" />
<circle cx="409.32" cy="1248.48" r="5.5" fill="#4f4f4f" />
<circle cx="419.7" cy="1242.66" r="5.5" fill="#4f4f4f" />
<circle cx="430.07" cy="1236.9" r="5.5" fill="#4f4f4f" />
<circle cx="440.45" cy="1231.2" r="5.5" fill="#4f4f4f" />
<circle cx="450.82" cy="1225.56" r="5.5" fill="#4f4f4f" />
<circle cx="481.95" cy="1209.01" r="5.5" fill="#4f4f4f" />
<circle cx="502.7" cy="1198.29" r="5.5" fill="#4f4f4f" />
<circle cx="513.07" cy="1193.03" r="5.5" fill="#4f4f4f" />
<circle cx="523.45" cy="1187.83" r="5.5" fill="#4f4f4f" />
<circle cx="533.83" cy="1182.71" r="5.5" fill="#4f4f4f" />
<circle cx="544.2" cy="1177.65" r="5.5" fill="#4f4f4f" />
<circle cx="554.58" cy="1172.67" r="5.5" fill="#4f4f4f" />
<circle cx="564.95" cy="1167.75" r="5.5" fill="#4f4f4f" />
<circle cx="575.33" cy="1162.91" r="5.5" fill="#4f4f4f" />
<circle cx="585.7" cy="1158.14" r="5.5" fill="#4f4f4f" />
<circle cx="606.45" cy="1148.82" r="5.5" fill="#4f4f4f" />
<circle cx="616.83" cy="1144.27" r="5.5" fill="#4f4f4f" />
<circle cx="98.08" cy="1442.77" r="5.5" fill="#ee3e42" />
<circle cx="108.45" cy="1438.64" r="5.5" fill="#ee3e42" />
<circle cx="118.83" cy="1434.46" r="5.5" fill="#ee3e42" />
<circle cx="129.2" cy="1430.22" r="5.5" fill="#ee3e42" />
<circle cx="139.57" cy="1425.93" r="5.5" fill="#ee3e42" />
<circle cx="149.95" cy="1421.61" r="5.5" fill="#ee3e42" />
<circle cx="160.32" cy="1417.25" r="5.5" fill="#ee3e42" />
<circle cx="170.7" cy="1412.87" r="5.5" fill="#ee3e42" />
<circle cx="181.07" cy="1408.46" r="5.5" fill="#ee3e42" />
<circle cx="191.45" cy="1404.04" r="5.5" fill="#ee3e42" />
<circle cx="201.83" cy="1399.61" r="5.5" fill="#ee3e42" />
<circle cx="212.2" cy="1395.16" r="5.5" fill="#ee3e42" />
<circle cx="222.57" cy="1390.71" r="5.5" fill="#ee3e42" />
<circle cx="232.95" cy="1386.26" r="5.5" fill="#ee3e42" />
<circle cx="243.32" cy="1381.8" r="5.5" fill="#ee3e42" />
<circle cx="253.7" cy="1377.35" r="5.5" fill="#ee3e42" />
<circle cx="274.45" cy="1368.46" r="5.5" fill="#ee3e42" />
<circle cx="284.82" cy="1364.02" r="5.5" fill="#ee3e42" />
<circle cx="295.2" cy="1359.59" r="5.5" fill="#ee3e42" />
<circle cx="305.57" cy="1355.18" r="5.5" fill="#ee3e42" />
<circle cx="315.95" cy="1350.78" r="5.5" fill="#ee3e42" />
<circle cx="326.32" cy="1346.39" r="5.5" fill="#ee3e42" />
<circle cx="336.7" cy="1342.02" r="5.5" fill="#ee3e42" />
<circle cx="347.07" cy="1337.66" r="5.5" fill="#ee3e42" />
<circle cx="357.45" cy="1333.32" r="5.5" fill="#ee3e42" />
<circle cx="367.82" cy="1329" r="5.5" fill="#ee3e42" />
<circle cx="378.2" cy="1324.7" r="5.5" fill="#ee3e42" />
<circle cx="388.57" cy="1320.42" r="5.5" fill="#ee3e42" />
<circle cx="398.95" cy="1316.17" r="5.5" fill="#ee3e42" />
<circle cx="409.32" cy="1311.93" r="5.5" fill="#ee3e42" />
<circle cx="419.7" cy="1307.72" r="5.5" fill="#ee3e42" />
<circle cx="430.07" cy="1303.54" r="5.5" fill="#ee3e42" />
<circle cx="440.45" cy="1299.38" r="5.5" fill="#ee3e42" />
<circle cx="450.82" cy="1295.24" r="5.5" fill="#ee3e42" />
<circle cx="461.2" cy="1291.14" r="5.5" fill="#ee3e42" />
<circle cx="471.57" cy="1287.06" r="5.5" fill="#ee3e42" />
<circle cx="481.95" cy="1283.01" r="5.5" fill="#ee3e42" />
<circle cx="492.32" cy="1278.99" r="5.5" fill="#ee3e42" />
<circle cx="502.7" cy="1275" r="5.5" fill="#ee3e42" />
<circle cx="513.07" cy="1271.04" r="5.5" fill="#ee3e42" />
<circle cx="523.45" cy="1267.11" r="5.5" fill="#ee3e42" />
<circle cx="533.83" cy="1263.22" r="5.5" fill="#ee3e42" />
<circle cx="544.2" cy="1259.35" r="5.5" fill="#ee3e42" />
<circle cx="554.58" cy="1255.52" r="5.5" fill="#ee3e42" />
<circle cx="564.95" cy="1251.73" r="5.5" fill="#ee3e42" />
<circle cx="575.33" cy="1247.97" r="5.5" fill="#ee3e42" />
<circle cx="606.45" cy="1236.91" r="5.5" fill="#ee3e42" />
<circle cx="616.83" cy="1233.3" r="5.5" fill="#ee3e42" />
<circle cx="627.2" cy="1229.73" r="5.5" fill="#ee3e42" />
<circle cx="98.08" cy="1443.49" r="5.5" fill="#2fa463" />
<circle cx="108.45" cy="1441.21" r="5.5" fill="#2fa463" />
<circle cx="118.83" cy="1438.89" r="5.5" fill="#2fa463" />
<circle cx="129.2" cy="1436.53" r="5.5" fill="#2fa463" />
<circle cx="139.57" cy="1434.13" r="5.5" fill="#2fa463" />
<circle cx="149.95" cy="1431.69" r="5.5" fill="#2fa463" />
<circle cx="160.32" cy="1429.23" r="5.5" fill="#2fa463" />
<circle cx="170.7" cy="1426.75" r="5.5" fill="#2fa463" />
<circle cx="181.07" cy="1424.24" r="5.5" fill="#2fa463" />
<circle cx="191.45" cy="1421.72" r="5.5" fill="#2fa463" />
<circle cx="201.83" cy="1419.18" r="5.5" fill="#2fa463" />
<circle cx="212.2" cy="1416.62" r="5.5" fill="#2fa463" />
<circle cx="222.57" cy="1414.05" r="5.5" fill="#2fa463" />
<circle cx="232.95" cy="1411.47" r="5.5" fill="#2fa463" />
<circle cx="243.32" cy="1408.89" r="5.5" fill="#2fa463" />
<circle cx="253.7" cy="1406.3" r="5.5" fill="#2fa463" />
<circle cx="264.07" cy="1403.7" r="5.5" fill="#2fa463" />
<circle cx="274.45" cy="1401.1" r="5.5" fill="#2fa463" />
<circle cx="284.82" cy="1398.5" r="5.5" fill="#2fa463" />
<circle cx="295.2" cy="1395.89" r="5.5" fill="#2fa463" />
<circle cx="305.57" cy="1393.29" r="5.5" fill="#2fa463" />
<circle cx="315.95" cy="1390.68" r="5.5" fill="#2fa463" />
<circle cx="326.32" cy="1388.08" r="5.5" fill="#2fa463" />
<circle cx="336.7" cy="1385.47" r="5.5" fill="#2fa463" />
<circle cx="347.07" cy="1382.87" r="5.5" fill="#2fa463" />
<circle cx="357.45" cy="1380.28" r="5.5" fill="#2fa463" />
<circle cx="367.82" cy="1377.68" r="5.5" fill="#2fa463" />
<circle cx="378.2" cy="1375.09" r="5.5" fill="#2fa463" />
<circle cx="388.57" cy="1372.51" r="5.5" fill="#2fa463" />
<circle cx="398.95" cy="1369.93" r="5.5" fill="#2fa463" />
<circle cx="409.32" cy="1367.35" r="5.5" fill="#2fa463" />
<circle cx="419.7" cy="1364.78" r="5.5" fill="#2fa463" />
<circle cx="430.07" cy="1362.22" r="5.5" fill="#2fa463" />
<circle cx="440.45" cy="1359.66" r="5.5" fill="#2fa463" />
<circle cx="450.82" cy="1357.1" r="5.5" fill="#2fa463" />
<circle cx="461.2" cy="1354.56" r="5.5" fill="#2fa463" />
<circle cx="471.57" cy="1352.02" r="5.5" fill="#2fa463" />
<circle cx="481.95" cy="1349.49" r="5.5" fill="#2fa463" />
<circle cx="492.32" cy="1346.96" r="5.5" fill="#2fa463" />
<circle cx="513.07" cy="1341.93" r="5.5" fill="#2fa463" />
<circle cx="523.45" cy="1339.43" r="5.5" fill="#2fa463" />
<circle cx="533.83" cy="1336.93" r="5.5" fill="#2fa463" />
<circle cx="544.2" cy="1334.44" r="5.5" fill="#2fa463" />
<circle cx="554.58" cy="1331.96" r="5.5" fill="#2fa463" />
<circle cx="564.95" cy="1329.48" r="5.5" fill="#2fa463" />
<circle cx="575.33" cy="1327.02" r="5.5" fill="#2fa463" />
<circle cx="606.45" cy="1319.67" r="5.5" fill="#2fa463" />
<circle cx="616.83" cy="1317.23" r="5.5" fill="#2fa463" />
<circle cx="98.08" cy="1447.23" r="5.5" fill="#1b6fdf" />
<circle cx="108.45" cy="1446.4" r="5.5" fill="#1b6fdf" />
<circle cx="118.83" cy="1445.46" r="5.5" fill="#1b6fdf" />
<circle cx="129.2" cy="1444.45" r="5.5" fill="#1b6fdf" />
<circle cx="139.57" cy="1443.37" r="5.5" fill="#1b6fdf" />
<circle cx="149.95" cy="1442.24" r="5.5" fill="#1b6fdf" />
<circle cx="160.32" cy="1441.06" r="5.5" fill="#1b6fdf" />
<circle cx="170.7" cy="1439.86" r="5.5" fill="#1b6fdf" />
<circle cx="181.07" cy="1438.63" r="5.5" fill="#1b6fdf" />
<circle cx="191.45" cy="1437.39" r="5.5" fill="#1b6fdf" />
<circle cx="201.83" cy="1436.13" r="5.5" fill="#1b6fdf" />
<circle cx="212.2" cy="1434.87" r="5.5" fill="#1b6fdf" />
<circle cx="222.57" cy="1433.6" r="5.5" fill="#1b6fdf" />
<circle cx="232.95" cy="1432.32" r="5.5" fill="#1b6fdf" />
<circle cx="243.32" cy="1431.05" r="5.5" fill="#1b6fdf" />
<circle cx="253.7" cy="1429.79" r="5.5" fill="#1b6fdf" />
<circle cx="264.07" cy="1428.52" r="5.5" fill="#1b6fdf" />
<circle cx="274.45" cy="1427.26" r="5.5" fill="#1b6fdf" />
<circle cx="284.82" cy="1426.01" r="5.5" fill="#1b6fdf" />
<circle cx="295.2" cy="1424.77" r="5.5" fill="#1b6fdf" />
<circle cx="305.57" cy="1423.53" r="5.5" fill="#1b6fdf" />
<circle cx="315.95" cy="1422.3" r="5.5" fill="#1b6fdf" />
<circle cx="326.32" cy="1421.08" r="5.5" fill="#1b6fdf" />
<circle cx="336.7" cy="1419.87" r="5.5" fill="#1b6fdf" />
<circle cx="347.07" cy="1418.68" r="5.5" fill="#1b6fdf" />
<circle cx="357.45" cy="1417.49" r="5.5" fill="#1b6fdf" />
<circle cx="367.82" cy="1416.31" r="5.5" fill="#1b6fdf" />
<circle cx="378.2" cy="1415.15" r="5.5" fill="#1b6fdf" />
<circle cx="388.57" cy="1413.99" r="5.5" fill="#1b6fdf" />
<circle cx="398.95" cy="1412.85" r="5.5" fill="#1b6fdf" />
<circle cx="409.32" cy="1411.71" r="5.5" fill="#1b6fdf" />
<circle cx="419.7" cy="1410.59" r="5.5" fill="#1b6fdf" />
<circle cx="430.07" cy="1409.48" r="5.5" fill="#1b6fdf" />
<circle cx="440.45" cy="1408.38" r="5.5" fill="#1b6fdf" />
<circle cx="450.82" cy="1407.3" r="5.5" fill="#1b6fdf" />
<circle cx="461.2" cy="1406.22" r="5.5" fill="#1b6fdf" />
<circle cx="471.57" cy="1405.16" r="5.5" fill="#1b6fdf" />
<circle cx="481.95" cy="1404.11" r="5.5" fill="#1b6fdf" />
<circle cx="492.32" cy="1403.07" r="5.5" fill="#1b6fdf" />
<circle cx="502.7" cy="1402.04" r="5.5" fill="#1b6fdf" />
<circle cx="513.07" cy="1401.02" r="5.5" fill="#1b6fdf" />
<circle cx="523.45" cy="1400.02" r="5.5" fill="#1b6fdf" />
<circle cx="533.83" cy="1399.02" r="5.5" fill="#1b6fdf" />
<circle cx="544.2" cy="1398.04" r="5.5" fill="#1b6fdf" />
<circle cx="554.58" cy="1397.07" r="5.5" fill="#1b6fdf" />
<circle cx="564.95" cy="1396.11" r="5.5" fill="#1b6fdf" />
<circle cx="575.33" cy="1395.17" r="5.5" fill="#1b6fdf" />
<circle cx="139.57" cy="1404.12" r="6.35" fill="none" stroke="#000" stroke-width="2.8" />
<ellipse cx="139.57" cy="1404.12" rx="1.9" ry="1.25" fill="#000"/>
<circle cx="150.37" cy="1398.66" r="6.35" fill="none" stroke="#000" stroke-width="2.8" />
<ellipse cx="150.37" cy="1398.66" rx="1.9" ry="1.25" fill="#000"/>
<circle cx="160.32" cy="1396.43" r="6.35" fill="none" stroke="#000" stroke-width="2.8" />
<ellipse cx="160.32" cy="1396.43" rx="1.9" ry="1.25" fill="#000"/>
<circle cx="170.29" cy="1389.96" r="6.35" fill="none" stroke="#000" stroke-width="2.8" />
<ellipse cx="170.29" cy="1389.96" rx="1.9" ry="1.25" fill="#000"/>
<circle cx="181.07" cy="1384.38" r="6.35" fill="none" stroke="#000" stroke-width="2.8" />
<ellipse cx="181.07" cy="1384.38" rx="1.9" ry="1.25" fill="#000"/>
<circle cx="191.03" cy="1375.47" r="6.35" fill="none" stroke="#000" stroke-width="2.8" />
<ellipse cx="191.03" cy="1375.47" rx="1.9" ry="1.25" fill="#000"/>
<circle cx="201.83" cy="1372.12" r="6.35" fill="none" stroke="#000" stroke-width="2.8" />
<ellipse cx="201.83" cy="1372.12" rx="1.9" ry="1.25" fill="#000"/>
<circle cx="211.78" cy="1366.55" r="6.35" fill="none" stroke="#000" stroke-width="2.8" />
<ellipse cx="211.78" cy="1366.55" rx="1.9" ry="1.25" fill="#000"/>
<circle cx="222.57" cy="1363.2" r="6.35" fill="none" stroke="#000" stroke-width="2.8" />
<ellipse cx="222.57" cy="1363.2" rx="1.9" ry="1.25" fill="#000"/>
<circle cx="243.32" cy="1346.7" r="6.35" fill="none" stroke="#000" stroke-width="2.8" />
<ellipse cx="243.32" cy="1346.7" rx="1.9" ry="1.25" fill="#000"/>
<circle cx="253.7" cy="1345.36" r="6.35" fill="none" stroke="#000" stroke-width="2.8" />
<ellipse cx="253.7" cy="1345.36" rx="1.9" ry="1.25" fill="#000"/>
<circle cx="264.07" cy="1346.03" r="6.35" fill="none" stroke="#000" stroke-width="2.8" />
<ellipse cx="264.07" cy="1346.03" rx="1.9" ry="1.25" fill="#000"/>
<circle cx="295.2" cy="1326.4" r="6.35" fill="none" stroke="#000" stroke-width="2.8" />
<ellipse cx="295.2" cy="1326.4" rx="1.9" ry="1.25" fill="#000"/>
<circle cx="305.57" cy="1324.18" r="6.35" fill="none" stroke="#000" stroke-width="2.8" />
<ellipse cx="305.57" cy="1324.18" rx="1.9" ry="1.25" fill="#000"/>
<circle cx="315.95" cy="1322.39" r="6.35" fill="none" stroke="#000" stroke-width="2.8" />
<ellipse cx="315.95" cy="1322.39" rx="1.9" ry="1.25" fill="#000"/>
<circle cx="326.32" cy="1304.11" r="6.35" fill="none" stroke="#000" stroke-width="2.8" />
<ellipse cx="326.32" cy="1304.11" rx="1.9" ry="1.25" fill="#000"/>
<circle cx="336.7" cy="1297.97" r="6.35" fill="none" stroke="#000" stroke-width="2.8" />
<ellipse cx="336.7" cy="1297.97" rx="1.9" ry="1.25" fill="#000"/>
<circle cx="347.07" cy="1294.07" r="6.35" fill="none" stroke="#000" stroke-width="2.8" />
<ellipse cx="347.07" cy="1294.07" rx="1.9" ry="1.25" fill="#000"/>
<circle cx="367.82" cy="1275.12" r="6.35" fill="none" stroke="#000" stroke-width="2.8" />
<ellipse cx="367.82" cy="1275.12" rx="1.9" ry="1.25" fill="#000"/>
<circle cx="378.2" cy="1267.87" r="6.35" fill="none" stroke="#000" stroke-width="2.8" />
<ellipse cx="378.2" cy="1267.87" rx="1.9" ry="1.25" fill="#000"/>
<circle cx="388.57" cy="1262.85" r="6.35" fill="none" stroke="#000" stroke-width="2.8" />
<ellipse cx="388.57" cy="1262.85" rx="1.9" ry="1.25" fill="#000"/>
<circle cx="419.7" cy="1244.34" r="6.35" fill="none" stroke="#000" stroke-width="2.8" />
<ellipse cx="419.7" cy="1244.34" rx="1.9" ry="1.25" fill="#000"/>
<circle cx="440.03" cy="1229.62" r="6.35" fill="none" stroke="#000" stroke-width="2.8" />
<ellipse cx="440.03" cy="1229.62" rx="1.9" ry="1.25" fill="#000"/>
<circle cx="450.82" cy="1224.05" r="6.35" fill="none" stroke="#000" stroke-width="2.8" />
<ellipse cx="450.82" cy="1224.05" rx="1.9" ry="1.25" fill="#000"/>
<circle cx="471.16" cy="1217.47" r="6.35" fill="none" stroke="#000" stroke-width="2.8" />
<ellipse cx="471.16" cy="1217.47" rx="1.9" ry="1.25" fill="#000"/>
<circle cx="481.95" cy="1212.12" r="6.35" fill="none" stroke="#000" stroke-width="2.8" />
<ellipse cx="481.95" cy="1212.12" rx="1.9" ry="1.25" fill="#000"/>
<circle cx="502.28" cy="1195.62" r="6.35" fill="none" stroke="#000" stroke-width="2.8" />
<ellipse cx="502.28" cy="1195.62" rx="1.9" ry="1.25" fill="#000"/>
<circle cx="513.49" cy="1195.39" r="6.35" fill="none" stroke="#000" stroke-width="2.8" />
<ellipse cx="513.49" cy="1195.39" rx="1.9" ry="1.25" fill="#000"/>
<circle cx="523.45" cy="1188.7" r="6.35" fill="none" stroke="#000" stroke-width="2.8" />
<ellipse cx="523.45" cy="1188.7" rx="1.9" ry="1.25" fill="#000"/>
<circle cx="554.16" cy="1175.88" r="6.35" fill="none" stroke="#000" stroke-width="2.8" />
<ellipse cx="554.16" cy="1175.88" rx="1.9" ry="1.25" fill="#000"/>
<path d="M87.7,1452.4 L89.78,1450.42 L91.85,1448.44 L93.92,1446.46 L96,1444.47 L98.08,1442.48 L100.15,1440.49 L102.22,1438.5 L104.3,1436.51 L106.38,1434.51 L108.45,1432.51 L110.53,1430.51 L112.6,1428.51 L114.68,1426.5 L116.75,1424.5 L118.83,1422.49 L120.9,1420.48 L122.97,1418.47 L125.05,1416.46 L127.12,1414.44 L129.2,1412.43 L131.28,1410.41 L133.35,1408.39 L135.43,1406.37 L137.5,1404.35 L139.57,1402.33 L141.65,1400.31 L143.72,1398.28 L145.8,1396.26 L147.88,1394.23 L149.95,1392.2 L152.03,1390.18 L154.1,1388.15 L156.18,1386.12 L158.25,1384.09 L160.32,1382.05 L162.4,1380.02 L164.48,1377.99 L166.55,1375.96 L168.62,1373.92 L170.7,1371.89 L172.77,1369.85 L174.85,1367.82 L176.93,1365.78 L179,1363.75 L181.07,1361.71 L183.15,1359.68 L185.22,1357.64 L187.3,1355.6 L189.38,1353.57 L191.45,1351.53 L193.52,1349.5 L195.6,1347.46 L197.67,1345.43 L199.75,1343.39 L201.83,1341.36 L203.9,1339.32 L205.97,1337.29 L208.05,1335.25 L210.12,1333.22 L212.2,1331.19 L214.28,1329.16 L216.35,1327.12 L218.42,1325.09 L220.5,1323.06 L222.57,1321.04 L224.65,1319.01 L226.72,1316.98 L228.8,1314.95 L230.88,1312.93 L232.95,1310.9 L235.02,1308.88 L237.1,1306.86 L239.17,1304.84 L241.25,1302.82 L243.32,1300.8 L245.4,1298.79 L247.48,1296.77 L249.55,1294.76 L251.62,1292.74 L253.7,1290.73 L255.77,1288.72 L257.85,1286.72 L259.93,1284.71 L262,1282.71 L264.07,1280.71 L266.15,1278.71 L268.23,1276.71 L270.3,1274.71 L272.38,1272.72 L274.45,1270.73 L276.52,1268.74 L278.6,1266.75 L280.68,1264.76 L282.75,1262.78 L284.82,1260.8 L286.9,1258.82 L288.97,1256.84 L291.05,1254.87 L293.12,1252.9 L295.2,1250.93 L297.27,1248.97 L299.35,1247 L301.43,1245.04 L303.5,1243.08 L305.57,1241.13 L307.65,1239.18 L309.72,1237.23 L311.8,1235.28 L313.88,1233.34 L315.95,1231.4 L318.02,1229.46 L320.1,1227.53 L322.17,1225.6 L324.25,1223.68 L326.32,1221.75 L328.4,1219.83 L330.47,1217.92 L332.55,1216 L334.62,1214.09 L336.7,1212.19 L338.77,1210.29 L340.85,1208.39 L342.93,1206.49 L345,1204.6 L347.07,1202.71 L349.15,1200.83 L351.22,1198.95 L353.3,1197.08 L355.38,1195.21 L357.45,1193.34 L359.52,1191.48 L361.6,1189.62 L363.67,1187.76 L365.75,1185.91 L367.82,1184.07 L369.9,1182.23 L371.97,1180.39 L374.05,1178.56 L376.12,1176.73 L378.2,1174.91 L380.27,1173.09 L382.35,1171.28 L384.42,1169.47 L386.5,1167.67 L388.57,1165.87 L390.65,1164.07 L392.72,1162.28 L394.8,1160.5 L396.88,1158.72 L398.95,1156.95 L401.02,1155.18 L403.1,1153.42 L405.18,1151.66 L407.25,1149.91 L409.32,1148.16 L411.4,1146.42 L413.47,1144.68 L415.55,1142.95 L417.62,1141.22 L419.7,1139.5 L421.77,1137.79 L423.85,1136.08 L425.92,1134.38 L428,1132.68 L430.07,1130.99 L432.15,1129.31 L434.22,1127.63 L436.3,1125.96 L438.38,1124.29 L440.45,1122.63 L442.52,1120.98 L444.6,1119.33 L446.68,1117.69 L448.75,1116.05 L450.82,1114.42 L452.9,1112.8 L454.97,1111.19 L457.05,1109.58 L459.12,1107.97 L461.2,1106.38 L463.27,1104.79 L465.35,1103.21 L467.42,1101.63 L469.5,1100.06 L471.57,1098.5 L473.65,1096.95 L475.73,1095.4 L477.8,1093.86 L479.87,1092.32 L481.95,1090.8 L484.02,1089.28 L486.1,1087.77 L488.17,1086.26 L490.25,1084.76 L492.32,1083.27 L494.4,1081.79 L496.47,1080.32 L498.55,1078.85 L500.62,1077.39 L502.7,1075.94 L504.77,1074.49 L506.85,1073.06 L508.92,1071.63 L511,1070.21 L513.07,1068.79 L515.15,1067.39 L517.23,1065.99 L519.3,1064.6 L521.38,1063.22 L523.45,1061.85 L525.52,1060.49 L527.6,1059.13 L529.67,1057.78 L531.75,1056.44 L533.83,1055.11 L535.9,1053.79 L537.97,1052.48 L540.05,1051.17 L542.12,1049.88 L544.2,1048.59 L546.27,1047.31 L548.35,1046.04 L550.43,1044.78 L552.5,1043.53 L554.58,1042.28 L556.65,1041.05 L558.72,1039.82 L560.8,1038.61 L562.87,1037.4 L564.95,1036.2 L567.02,1035.01 L569.1,1033.83 L571.18,1032.66 L573.25,1031.5 L575.33,1030.35 L577.4,1029.21 L579.47,1028.08 L581.55,1026.95 L583.62,1025.84 L585.7,1024.74 L587.77,1023.65 L589.85,1022.56 L591.92,1021.49 L594,1020.42 L596.08,1019.37 L598.15,1018.33 L600.23,1017.29 L602.3,1016.27 L604.38,1015.26 L606.45,1014.25 L608.52,1013.26 L610.6,1012.28 L612.67,1011.31 L614.75,1010.34 L616.83,1009.39 L618.9,1008.45 L620.98,1007.52 L623.05,1006.6 L625.12,1005.69 L627.2,1004.79 L629.27,1003.91 L631.35,1003.03 L633.43,1002.17 L635.5,1001.31 L637.58,1000.47 L639.65,999.63 L641.72,998.81 L643.8,998 L645.88,997.2 L647.95,996.41 L650.03,995.64 L652.1,994.87 L654.18,994.12 L656.25,993.38 L658.33,992.64 L660.4,991.93 L662.47,991.22 L664.55,990.52 L666.62,989.84 L668.7,989.16" fill="none" stroke="#8510f0" stroke-width="2.6" stroke-linecap="round" stroke-dasharray="12.6,15.77" stroke-dashoffset="12.07"/>
<path d="M87.7,1452.4 L89.78,1449.92 L91.85,1447.45 L93.92,1444.97 L96,1442.49 L98.08,1440.02 L100.15,1437.54 L102.22,1435.06 L104.3,1432.58 L106.38,1430.11 L108.45,1427.63 L110.53,1425.15 L112.6,1422.68 L114.68,1420.2 L116.75,1417.72 L118.83,1415.25 L120.9,1412.77 L122.97,1410.29 L125.05,1407.81 L127.12,1405.34 L129.2,1402.86 L131.28,1400.38 L133.35,1397.91 L135.43,1395.43 L137.5,1392.95 L139.57,1390.48 L141.65,1388 L143.72,1385.52 L145.8,1383.04 L147.88,1380.57 L149.95,1378.09 L152.03,1375.61 L154.1,1373.14 L156.18,1370.66 L158.25,1368.18 L160.32,1365.71 L162.4,1363.23 L164.48,1360.75 L166.55,1358.28 L168.62,1355.8 L170.7,1353.32 L172.77,1350.84 L174.85,1348.37 L176.93,1345.89 L179,1343.41 L181.07,1340.94 L183.15,1338.46 L185.22,1335.98 L187.3,1333.51 L189.38,1331.03 L191.45,1328.55 L193.52,1326.07 L195.6,1323.6 L197.67,1321.12 L199.75,1318.64 L201.83,1316.17 L203.9,1313.69 L205.97,1311.21 L208.05,1308.74 L210.12,1306.26 L212.2,1303.78 L214.28,1301.3 L216.35,1298.83 L218.42,1296.35 L220.5,1293.87 L222.57,1291.4 L224.65,1288.92 L226.72,1286.44 L228.8,1283.97 L230.88,1281.49 L232.95,1279.01 L235.02,1276.53 L237.1,1274.06 L239.17,1271.58 L241.25,1269.1 L243.32,1266.63 L245.4,1264.15 L247.48,1261.67 L249.55,1259.2 L251.62,1256.72 L253.7,1254.24 L255.77,1251.77 L257.85,1249.29 L259.93,1246.81 L262,1244.33 L264.07,1241.86 L266.15,1239.38 L268.23,1236.9 L270.3,1234.43 L272.38,1231.95 L274.45,1229.47 L276.52,1227 L278.6,1224.52 L280.68,1222.04 L282.75,1219.56 L284.82,1217.09 L286.9,1214.61 L288.97,1212.13 L291.05,1209.66 L293.12,1207.18 L295.2,1204.7 L297.27,1202.23 L299.35,1199.75 L301.43,1197.27 L303.5,1194.79 L305.57,1192.32 L307.65,1189.84 L309.72,1187.36 L311.8,1184.89 L313.88,1182.41 L315.95,1179.93 L318.02,1177.46 L320.1,1174.98 L322.17,1172.5 L324.25,1170.03 L326.32,1167.55 L328.4,1165.07 L330.47,1162.59 L332.55,1160.12 L334.62,1157.64 L336.7,1155.16 L338.77,1152.69 L340.85,1150.21 L342.93,1147.73 L345,1145.26 L347.07,1142.78 L349.15,1140.3 L351.22,1137.82 L353.3,1135.35 L355.38,1132.87 L357.45,1130.39 L359.52,1127.92 L361.6,1125.44 L363.67,1122.96 L365.75,1120.49 L367.82,1118.01 L369.9,1115.53 L371.97,1113.06 L374.05,1110.58 L376.12,1108.1 L378.2,1105.62 L380.27,1103.15 L382.35,1100.67 L384.42,1098.19 L386.5,1095.72 L388.57,1093.24 L390.65,1090.76 L392.72,1088.29 L394.8,1085.81 L396.88,1083.34 L398.95,1080.86 L401.02,1078.38 L403.1,1075.91 L405.18,1073.43 L407.25,1070.96 L409.32,1068.48 L411.4,1066.01 L413.47,1063.53 L415.55,1061.06 L417.62,1058.58 L419.7,1056.11 L421.77,1053.64 L423.85,1051.17 L425.92,1048.69 L428,1046.22 L430.07,1043.75 L432.15,1041.29 L434.22,1038.82 L436.3,1036.35 L438.38,1033.89 L440.45,1031.43 L442.52,1028.97 L444.6,1026.51 L446.68,1024.06 L448.75,1021.61 L450.82,1019.16 L452.9,1016.72 L454.97,1014.28 L457.05,1011.85 L459.12,1009.42 L461.2,1007 L463.27,1004.59 L465.35,1002.19 L467.42,999.8 L469.5,997.41 L471.57,995.04 L473.65,992.69 L475.73,990.35 L477.8,988.03 L479.87,985.72 L481.95,983.44 L484.02,981.18 L486.1,978.95 L488.17,976.74 L490.25,974.57 L492.32,972.42 L494.4,970.32 L496.47,968.25 L498.55,966.23 L500.62,964.26 L502.7,962.33 L504.77,960.45 L506.85,958.63 L508.92,956.87 L511,955.17 L513.07,953.53 L515.15,951.96 L517.23,950.45 L519.3,949.01 L521.38,947.64 L523.45,946.34 L525.52,945.11 L527.6,943.95 L529.67,942.86 L531.75,941.83 L533.83,940.88 L535.9,939.98 L537.97,939.15 L540.05,938.38 L542.12,937.67 L544.2,937.01 L546.27,936.4 L548.35,935.84 L550.43,935.32 L552.5,934.85 L554.58,934.42 L556.65,934.02 L558.72,933.66 L560.8,933.33 L562.87,933.03 L564.95,932.75 L567.02,932.51 L569.1,932.28 L571.18,932.07 L573.25,931.88 L575.33,931.71 L577.4,931.56 L579.47,931.42 L581.55,931.29 L583.62,931.18 L585.7,931.07 L587.77,930.98 L589.85,930.89 L591.92,930.81 L594,930.74 L596.08,930.67 L598.15,930.62 L600.23,930.56 L602.3,930.51 L604.38,930.47 L606.45,930.43 L608.52,930.39 L610.6,930.36 L612.67,930.33 L614.75,930.3 L616.83,930.28 L618.9,930.26 L620.98,930.24 L623.05,930.22 L625.12,930.2 L627.2,930.19 L629.27,930.17 L631.35,930.16 L633.43,930.15 L635.5,930.14 L637.58,930.13 L639.65,930.12 L641.72,930.11 L643.8,930.1 L645.88,930.1 L647.95,930.09 L650.03,930.08 L652.1,930.08 L654.18,930.07 L656.25,930.07 L658.33,930.07 L660.4,930.06 L662.47,930.06 L664.55,930.06 L666.62,930.05 L668.7,930.05" fill="none" stroke="#e5a629" stroke-width="2.6" stroke-linecap="round" stroke-dasharray="12.8,15.66" stroke-dashoffset="13.16"/>
</g>
<line x1="157.2" y1="1162" x2="158.8" y2="1162" stroke="#7a7a7a" stroke-width="2.4" stroke-linecap="round"/>
<line x1="145.9" y1="1162" x2="147.5" y2="1162" stroke="#7a7a7a" stroke-width="2.4" stroke-linecap="round"/>
<line x1="134.6" y1="1162" x2="136.2" y2="1162" stroke="#7a7a7a" stroke-width="2.4" stroke-linecap="round"/>
<line x1="123.3" y1="1162" x2="124.9" y2="1162" stroke="#7a7a7a" stroke-width="2.4" stroke-linecap="round"/>
<line x1="112" y1="1162" x2="113.6" y2="1162" stroke="#7a7a7a" stroke-width="2.4" stroke-linecap="round"/>
<line x1="100.7" y1="1162" x2="102.3" y2="1162" stroke="#7a7a7a" stroke-width="2.4" stroke-linecap="round"/>
<line x1="89.4" y1="1162" x2="91" y2="1162" stroke="#7a7a7a" stroke-width="2.4" stroke-linecap="round"/>
<line x1="158" y1="1149.94" x2="158" y2="1151.54" stroke="#7a7a7a" stroke-width="2.4" stroke-linecap="round"/>
<line x1="158" y1="1138.68" x2="158" y2="1140.28" stroke="#7a7a7a" stroke-width="2.4" stroke-linecap="round"/>
<line x1="158" y1="1127.42" x2="158" y2="1129.02" stroke="#7a7a7a" stroke-width="2.4" stroke-linecap="round"/>
<line x1="158" y1="1116.16" x2="158" y2="1117.76" stroke="#7a7a7a" stroke-width="2.4" stroke-linecap="round"/>
<line x1="158" y1="1104.9" x2="158" y2="1106.5" stroke="#7a7a7a" stroke-width="2.4" stroke-linecap="round"/>
<line x1="158" y1="1093.64" x2="158" y2="1095.24" stroke="#7a7a7a" stroke-width="2.4" stroke-linecap="round"/>
<line x1="158" y1="1082.38" x2="158" y2="1083.98" stroke="#7a7a7a" stroke-width="2.4" stroke-linecap="round"/>
<line x1="158" y1="1071.12" x2="158" y2="1072.72" stroke="#7a7a7a" stroke-width="2.4" stroke-linecap="round"/>
<line x1="158" y1="1059.86" x2="158" y2="1061.46" stroke="#7a7a7a" stroke-width="2.4" stroke-linecap="round"/>
<line x1="158" y1="1048.6" x2="158" y2="1050.2" stroke="#7a7a7a" stroke-width="2.4" stroke-linecap="round"/>
<line x1="158" y1="1037.34" x2="158" y2="1038.94" stroke="#7a7a7a" stroke-width="2.4" stroke-linecap="round"/>
<line x1="158" y1="1026.08" x2="158" y2="1027.68" stroke="#7a7a7a" stroke-width="2.4" stroke-linecap="round"/>
<line x1="158" y1="1014.82" x2="158" y2="1016.42" stroke="#7a7a7a" stroke-width="2.4" stroke-linecap="round"/>
<line x1="158" y1="1003.56" x2="158" y2="1005.16" stroke="#7a7a7a" stroke-width="2.4" stroke-linecap="round"/>
<line x1="158" y1="992.3" x2="158" y2="993.9" stroke="#7a7a7a" stroke-width="2.4" stroke-linecap="round"/>
<line x1="158" y1="981.04" x2="158" y2="982.64" stroke="#7a7a7a" stroke-width="2.4" stroke-linecap="round"/>
<line x1="158" y1="969.78" x2="158" y2="971.38" stroke="#7a7a7a" stroke-width="2.4" stroke-linecap="round"/>
<line x1="157.2" y1="959.4" x2="158.8" y2="959.4" stroke="#7a7a7a" stroke-width="2.4" stroke-linecap="round"/>
<line x1="168.31" y1="959.4" x2="169.91" y2="959.4" stroke="#7a7a7a" stroke-width="2.4" stroke-linecap="round"/>
<line x1="179.42" y1="959.4" x2="181.02" y2="959.4" stroke="#7a7a7a" stroke-width="2.4" stroke-linecap="round"/>
<line x1="190.53" y1="959.4" x2="192.13" y2="959.4" stroke="#7a7a7a" stroke-width="2.4" stroke-linecap="round"/>
<line x1="201.64" y1="959.4" x2="203.24" y2="959.4" stroke="#7a7a7a" stroke-width="2.4" stroke-linecap="round"/>
<line x1="212.75" y1="959.4" x2="214.35" y2="959.4" stroke="#7a7a7a" stroke-width="2.4" stroke-linecap="round"/>
<line x1="223.86" y1="959.4" x2="225.46" y2="959.4" stroke="#7a7a7a" stroke-width="2.4" stroke-linecap="round"/>
<line x1="234.97" y1="959.4" x2="236.57" y2="959.4" stroke="#7a7a7a" stroke-width="2.4" stroke-linecap="round"/>
<text x="95.14" y="947.6" font-size="27.5" fill="#666" textLength="169.36" lengthAdjust="spacing">Measurement</text>
<text x="170.08" y="1163.1" font-size="27.5" fill="#666" textLength="84.97" lengthAdjust="spacing">Theory</text>
<line x1="173.9" y1="974.8" x2="187.3" y2="974.8" stroke="#e5a629" stroke-width="2.7" stroke-linecap="round"/>
<line x1="201.6" y1="974.8" x2="215.1" y2="974.8" stroke="#e5a629" stroke-width="2.7" stroke-linecap="round"/>
<text x="238.66" y="982.2" font-size="22" fill="#000" >30</text>
<text x="267.07" y="982.2" font-size="22" fill="#000" >mK</text>
<line x1="173.9" y1="999.6" x2="187.3" y2="999.6" stroke="#8510f0" stroke-width="2.7" stroke-linecap="round"/>
<line x1="201.6" y1="999.6" x2="215.1" y2="999.6" stroke="#8510f0" stroke-width="2.7" stroke-linecap="round"/>
<text x="238.62" y="1007" font-size="22" fill="#000" >500</text>
<text x="279.26" y="1007" font-size="22" fill="#000" >mK</text>
<line x1="172.6" y1="1026.5" x2="227.2" y2="1026.5" stroke="#4f4f4f" stroke-width="2.7" />
<text x="238.39" y="1033.9" font-size="22" fill="#000" >2</text>
<text x="254.22" y="1033.9" font-size="22" fill="#000" >K</text>
<line x1="172.6" y1="1051.2" x2="227.2" y2="1051.2" stroke="#ee3e42" stroke-width="2.7" />
<text x="239" y="1058.6" font-size="22" fill="#000" >4</text>
<text x="254.83" y="1058.6" font-size="22" fill="#000" >K</text>
<line x1="172.6" y1="1076.2" x2="227.2" y2="1076.2" stroke="#1b6fdf" stroke-width="2.7" />
<text x="238.54" y="1083.6" font-size="22" fill="#000" >8</text>
<text x="254.37" y="1083.6" font-size="22" fill="#000" >K</text>
<line x1="172.6" y1="1101.3" x2="227.2" y2="1101.3" stroke="#2fa463" stroke-width="2.7" />
<text x="238.39" y="1108.7" font-size="22" fill="#000" >20</text>
<text x="266.46" y="1108.7" font-size="22" fill="#000" >K</text>
<line x1="172.6" y1="1126.4" x2="227.2" y2="1126.4" stroke="#a47cdb" stroke-width="2.7" />
<text x="238.66" y="1133.8" font-size="22" fill="#000" >300</text>
<text x="278.96" y="1133.8" font-size="22" fill="#000" >K</text>
<circle cx="123.8" cy="974.8" r="6.35" fill="#fff" stroke="#e5a629" stroke-width="2.8" />
<ellipse cx="123.8" cy="974.8" rx="1.9" ry="1.25" fill="#e5a629"/>
<circle cx="123.8" cy="999.6" r="6.35" fill="#fff" stroke="#8510f0" stroke-width="2.8" />
<ellipse cx="123.8" cy="999.6" rx="1.9" ry="1.25" fill="#8510f0"/>
<circle cx="110.3" cy="1026.5" r="6.35" fill="#fff" stroke="#000" stroke-width="2.8" />
<ellipse cx="110.3" cy="1026.5" rx="1.9" ry="1.25" fill="#000"/>
<circle cx="137.6" cy="1026.5" r="6.2" fill="#4f4f4f" />
<circle cx="123.8" cy="1051.2" r="6.2" fill="#ee3e42" />
<circle cx="123.8" cy="1076.2" r="6.2" fill="#1b6fdf" />
<circle cx="123.8" cy="1101.3" r="6.2" fill="#2fa463" />
<rect x="87.7" y="917.6" width="581" height="535" fill="none" stroke="#000" stroke-width="2.7"/>
</svg></body></html>
